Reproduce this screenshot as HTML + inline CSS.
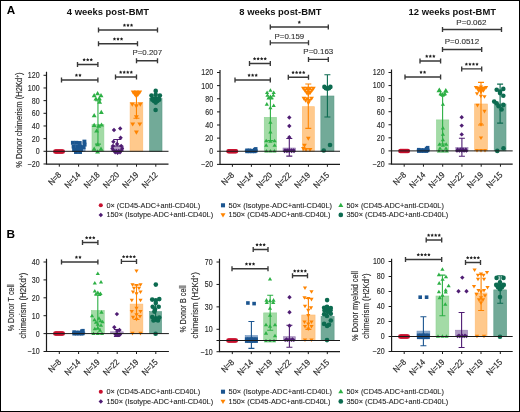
<!DOCTYPE html>
<html><head><meta charset="utf-8"><style>
html,body{margin:0;padding:0;background:#fff;}
body{width:520px;height:412px;overflow:hidden;}
svg{display:block;will-change:transform;}
text{font-family:"Liberation Sans",sans-serif;}
</style></head><body>
<svg width="520" height="412" viewBox="0 0 520 412">
<rect x="0" y="0" width="520" height="412" fill="#fff"/>
<rect x="72.50" y="148.00" width="12.60" height="3.30" fill="#8aa9cc" stroke="#6c93c0" stroke-width="0.6"/>
<rect x="92.00" y="124.50" width="11.90" height="26.80" fill="#a3dba6" stroke="#8fd494" stroke-width="0.6"/>
<rect x="111.10" y="146.00" width="12.40" height="5.30" fill="#b09cc4" stroke="#9a80b5" stroke-width="0.6"/>
<rect x="130.10" y="102.50" width="12.70" height="48.80" fill="#ffc98c" stroke="#ffbb70" stroke-width="0.6"/>
<rect x="149.60" y="98.40" width="12.40" height="52.90" fill="#72aa98" stroke="#5a9a86" stroke-width="0.6"/>
<circle cx="55.30" cy="151.40" r="2.24" fill="#c8102e"/>
<circle cx="56.37" cy="151.40" r="2.24" fill="#c8102e"/>
<circle cx="57.44" cy="151.40" r="2.24" fill="#c8102e"/>
<circle cx="58.51" cy="151.40" r="2.24" fill="#c8102e"/>
<circle cx="59.58" cy="151.40" r="2.24" fill="#c8102e"/>
<circle cx="60.65" cy="151.40" r="2.24" fill="#c8102e"/>
<circle cx="61.72" cy="151.40" r="2.24" fill="#c8102e"/>
<circle cx="62.79" cy="151.40" r="2.24" fill="#c8102e"/>
<rect x="70.94" y="140.84" width="3.92" height="3.92" fill="#1b5590"/>
<rect x="74.34" y="140.84" width="3.92" height="3.92" fill="#1b5590"/>
<rect x="77.74" y="141.04" width="3.92" height="3.92" fill="#1b5590"/>
<rect x="82.44" y="139.64" width="3.92" height="3.92" fill="#1b5590"/>
<rect x="82.64" y="142.64" width="3.92" height="3.92" fill="#1b5590"/>
<rect x="71.64" y="144.64" width="3.92" height="3.92" fill="#1b5590"/>
<rect x="75.14" y="144.64" width="3.92" height="3.92" fill="#1b5590"/>
<rect x="78.64" y="144.64" width="3.92" height="3.92" fill="#1b5590"/>
<rect x="81.64" y="145.24" width="3.92" height="3.92" fill="#1b5590"/>
<rect x="72.24" y="148.04" width="3.92" height="3.92" fill="#1b5590"/>
<rect x="75.64" y="148.04" width="3.92" height="3.92" fill="#1b5590"/>
<rect x="79.04" y="148.04" width="3.92" height="3.92" fill="#1b5590"/>
<rect x="74.04" y="150.04" width="3.92" height="3.92" fill="#1b5590"/>
<rect x="78.04" y="150.04" width="3.92" height="3.92" fill="#1b5590"/>
<path d="M94.20 93.00L96.67 97.21L91.73 97.21Z" fill="#2db045"/>
<path d="M97.60 91.00L100.07 95.21L95.13 95.21Z" fill="#2db045"/>
<path d="M101.00 93.00L103.47 97.21L98.53 97.21Z" fill="#2db045"/>
<path d="M95.90 96.40L98.37 100.61L93.43 100.61Z" fill="#2db045"/>
<path d="M99.30 96.10L101.77 100.31L96.83 100.31Z" fill="#2db045"/>
<path d="M99.60 99.50L102.07 103.71L97.13 103.71Z" fill="#2db045"/>
<path d="M101.30 109.70L103.77 113.91L98.83 113.91Z" fill="#2db045"/>
<path d="M94.20 113.10L96.67 117.31L91.73 117.31Z" fill="#2db045"/>
<path d="M94.20 122.80L96.67 127.01L91.73 127.01Z" fill="#2db045"/>
<path d="M98.80 123.60L101.27 127.81L96.33 127.81Z" fill="#2db045"/>
<path d="M101.50 122.40L103.97 126.61L99.03 126.61Z" fill="#2db045"/>
<path d="M96.60 128.40L99.07 132.61L94.13 132.61Z" fill="#2db045"/>
<path d="M97.60 142.00L100.07 146.21L95.13 146.21Z" fill="#2db045"/>
<path d="M94.20 146.60L96.67 150.81L91.73 150.81Z" fill="#2db045"/>
<path d="M101.00 146.60L103.47 150.81L98.53 150.81Z" fill="#2db045"/>
<path d="M97.60 149.20L100.07 153.41L95.13 153.41Z" fill="#2db045"/>
<path d="M97.95 100.80V144.10M94.95 100.80H100.95M94.95 144.10H100.95" stroke="#2db045" stroke-width="1.1" fill="none"/>
<path d="M114.00 127.80L116.20 130.00L114.00 132.20L111.80 130.00Z" fill="#4f1d73"/>
<path d="M120.20 126.30L122.40 128.50L120.20 130.70L118.00 128.50Z" fill="#4f1d73"/>
<path d="M120.60 135.60L122.80 137.80L120.60 140.00L118.40 137.80Z" fill="#4f1d73"/>
<path d="M113.40 139.50L115.60 141.70L113.40 143.90L111.20 141.70Z" fill="#4f1d73"/>
<path d="M117.10 141.80L119.30 144.00L117.10 146.20L114.90 144.00Z" fill="#4f1d73"/>
<path d="M113.00 143.70L115.20 145.90L113.00 148.10L110.80 145.90Z" fill="#4f1d73"/>
<path d="M121.20 143.70L123.40 145.90L121.20 148.10L119.00 145.90Z" fill="#4f1d73"/>
<path d="M112.30 146.62L114.28 148.60L112.30 150.58L110.32 148.60Z" fill="#4f1d73"/>
<path d="M122.20 146.62L124.18 148.60L122.20 150.58L120.22 148.60Z" fill="#4f1d73"/>
<path d="M113.80 148.62L115.78 150.60L113.80 152.58L111.82 150.60Z" fill="#4f1d73"/>
<path d="M116.30 148.82L118.28 150.80L116.30 152.78L114.32 150.80Z" fill="#4f1d73"/>
<path d="M118.80 148.82L120.78 150.80L118.80 152.78L116.82 150.80Z" fill="#4f1d73"/>
<path d="M121.20 148.62L123.18 150.60L121.20 152.58L119.22 150.60Z" fill="#4f1d73"/>
<path d="M115.20 150.62L117.18 152.60L115.20 154.58L113.22 152.60Z" fill="#4f1d73"/>
<path d="M117.60 151.02L119.58 153.00L117.60 154.98L115.62 153.00Z" fill="#4f1d73"/>
<path d="M120.00 150.62L121.98 152.60L120.00 154.58L118.02 152.60Z" fill="#4f1d73"/>
<path d="M117.30 139.50V146.00M113.30 139.50H121.30M113.30 146.00H121.30" stroke="#4f1d73" stroke-width="1.1" fill="none"/>
<path d="M133.20 94.70L135.67 90.49L130.73 90.49Z" fill="#ff8400"/>
<path d="M136.40 94.70L138.87 90.49L133.93 90.49Z" fill="#ff8400"/>
<path d="M139.70 94.70L142.17 90.49L137.23 90.49Z" fill="#ff8400"/>
<path d="M134.80 96.60L137.27 92.39L132.33 92.39Z" fill="#ff8400"/>
<path d="M138.10 96.60L140.57 92.39L135.63 92.39Z" fill="#ff8400"/>
<path d="M136.40 97.90L138.87 93.69L133.93 93.69Z" fill="#ff8400"/>
<path d="M135.00 95.20L137.47 90.99L132.53 90.99Z" fill="#ff8400"/>
<path d="M138.00 95.20L140.47 90.99L135.53 90.99Z" fill="#ff8400"/>
<path d="M136.40 96.10L138.87 91.89L133.93 91.89Z" fill="#ff8400"/>
<path d="M136.40 98.38L138.38 95.01L134.42 95.01Z" fill="#ff8400"/>
<path d="M136.40 108.40L138.87 104.19L133.93 104.19Z" fill="#ff8400"/>
<path d="M132.30 106.70L134.77 102.49L129.83 102.49Z" fill="#ff8400"/>
<path d="M140.30 106.70L142.77 102.49L137.83 102.49Z" fill="#ff8400"/>
<path d="M136.40 119.40L138.87 115.19L133.93 115.19Z" fill="#ff8400"/>
<path d="M132.70 126.60L135.17 122.39L130.23 122.39Z" fill="#ff8400"/>
<path d="M139.80 126.60L142.27 122.39L137.33 122.39Z" fill="#ff8400"/>
<path d="M136.40 134.80L138.87 130.59L133.93 130.59Z" fill="#ff8400"/>
<path d="M136.45 93.00V118.20M133.45 93.00H139.45M133.45 118.20H139.45" stroke="#ff8400" stroke-width="1.1" fill="none"/>
<circle cx="155.70" cy="90.90" r="2.30" fill="#0c6b50"/>
<circle cx="151.50" cy="95.60" r="2.30" fill="#0c6b50"/>
<circle cx="155.70" cy="94.80" r="2.30" fill="#0c6b50"/>
<circle cx="159.90" cy="95.60" r="2.30" fill="#0c6b50"/>
<circle cx="152.60" cy="98.60" r="2.30" fill="#0c6b50"/>
<circle cx="155.70" cy="98.20" r="2.30" fill="#0c6b50"/>
<circle cx="158.80" cy="98.60" r="2.30" fill="#0c6b50"/>
<circle cx="154.00" cy="101.00" r="2.30" fill="#0c6b50"/>
<circle cx="157.40" cy="101.00" r="2.30" fill="#0c6b50"/>
<circle cx="155.70" cy="102.60" r="2.30" fill="#0c6b50"/>
<circle cx="152.30" cy="99.80" r="2.30" fill="#0c6b50"/>
<circle cx="159.10" cy="99.80" r="2.30" fill="#0c6b50"/>
<circle cx="155.60" cy="110.00" r="2.30" fill="#0c6b50"/>
<path d="M46.5 151.30H168.5" stroke="#1a1a1a" stroke-width="1"/>
<path d="M46.5 71.7V164.2H168.5" stroke="#1a1a1a" stroke-width="1.2" fill="none"/>
<path d="M43.5 75.30H46.5" stroke="#1a1a1a" stroke-width="1"/>
<text x="39.6" y="78.20" font-size="8.2" text-anchor="end" fill="#2b2b2b" font-weight="normal" textLength="11.76" lengthAdjust="spacingAndGlyphs" stroke="#2b2b2b" stroke-width="0.14">120</text>
<path d="M43.5 87.97H46.5" stroke="#1a1a1a" stroke-width="1"/>
<text x="39.6" y="90.87" font-size="8.2" text-anchor="end" fill="#2b2b2b" font-weight="normal" textLength="11.76" lengthAdjust="spacingAndGlyphs" stroke="#2b2b2b" stroke-width="0.14">100</text>
<path d="M43.5 100.63H46.5" stroke="#1a1a1a" stroke-width="1"/>
<text x="39.6" y="103.53" font-size="8.2" text-anchor="end" fill="#2b2b2b" font-weight="normal" textLength="7.84" lengthAdjust="spacingAndGlyphs" stroke="#2b2b2b" stroke-width="0.14">80</text>
<path d="M43.5 113.30H46.5" stroke="#1a1a1a" stroke-width="1"/>
<text x="39.6" y="116.20" font-size="8.2" text-anchor="end" fill="#2b2b2b" font-weight="normal" textLength="7.84" lengthAdjust="spacingAndGlyphs" stroke="#2b2b2b" stroke-width="0.14">60</text>
<path d="M43.5 125.97H46.5" stroke="#1a1a1a" stroke-width="1"/>
<text x="39.6" y="128.87" font-size="8.2" text-anchor="end" fill="#2b2b2b" font-weight="normal" textLength="7.84" lengthAdjust="spacingAndGlyphs" stroke="#2b2b2b" stroke-width="0.14">40</text>
<path d="M43.5 138.63H46.5" stroke="#1a1a1a" stroke-width="1"/>
<text x="39.6" y="141.53" font-size="8.2" text-anchor="end" fill="#2b2b2b" font-weight="normal" textLength="7.84" lengthAdjust="spacingAndGlyphs" stroke="#2b2b2b" stroke-width="0.14">20</text>
<path d="M43.5 151.30H46.5" stroke="#1a1a1a" stroke-width="1"/>
<text x="39.6" y="154.20" font-size="8.2" text-anchor="end" fill="#2b2b2b" font-weight="normal" textLength="3.92" lengthAdjust="spacingAndGlyphs" stroke="#2b2b2b" stroke-width="0.14">0</text>
<path d="M43.5 163.97H46.5" stroke="#1a1a1a" stroke-width="1"/>
<text x="39.6" y="166.87" font-size="8.2" text-anchor="end" fill="#2b2b2b" font-weight="normal" textLength="11.96" lengthAdjust="spacingAndGlyphs" stroke="#2b2b2b" stroke-width="0.14">−20</text>
<path d="M59.30 164.2V166.7" stroke="#1a1a1a" stroke-width="1"/>
<path d="M78.60 164.2V166.7" stroke="#1a1a1a" stroke-width="1"/>
<path d="M97.90 164.2V166.7" stroke="#1a1a1a" stroke-width="1"/>
<path d="M117.20 164.2V166.7" stroke="#1a1a1a" stroke-width="1"/>
<path d="M136.50 164.2V166.7" stroke="#1a1a1a" stroke-width="1"/>
<path d="M155.80 164.2V166.7" stroke="#1a1a1a" stroke-width="1"/>
<text transform="translate(61.80 175.50) rotate(-45)" font-size="8.6" text-anchor="end" fill="#2b2b2b" stroke="#2b2b2b" stroke-width="0.18" textLength="14.35" lengthAdjust="spacingAndGlyphs">N=8</text>
<text transform="translate(81.10 175.50) rotate(-45)" font-size="8.6" text-anchor="end" fill="#2b2b2b" stroke="#2b2b2b" stroke-width="0.18" textLength="18.64" lengthAdjust="spacingAndGlyphs">N=14</text>
<text transform="translate(100.40 175.50) rotate(-45)" font-size="8.6" text-anchor="end" fill="#2b2b2b" stroke="#2b2b2b" stroke-width="0.18" textLength="18.64" lengthAdjust="spacingAndGlyphs">N=18</text>
<text transform="translate(119.70 175.50) rotate(-45)" font-size="8.6" text-anchor="end" fill="#2b2b2b" stroke="#2b2b2b" stroke-width="0.18" textLength="18.64" lengthAdjust="spacingAndGlyphs">N=20</text>
<text transform="translate(139.00 175.50) rotate(-45)" font-size="8.6" text-anchor="end" fill="#2b2b2b" stroke="#2b2b2b" stroke-width="0.18" textLength="18.64" lengthAdjust="spacingAndGlyphs">N=19</text>
<text transform="translate(158.30 175.50) rotate(-45)" font-size="8.6" text-anchor="end" fill="#2b2b2b" stroke="#2b2b2b" stroke-width="0.18" textLength="18.64" lengthAdjust="spacingAndGlyphs">N=12</text>
<path d="M61.5 80H97.9M61.5 77.5V82.5M97.9 77.5V82.5" stroke="#383838" stroke-width="1.35" fill="none"/>
<polygon points="76.42,73.55 76.98,74.53 78.09,74.76 77.33,75.59 77.45,76.72 76.42,76.25 75.40,76.72 75.52,75.59 74.76,74.76 75.87,74.53" fill="#222"/>
<polygon points="79.98,73.55 80.53,74.53 81.64,74.76 80.88,75.59 81.00,76.72 79.98,76.25 78.95,76.72 79.07,75.59 78.31,74.76 79.42,74.53" fill="#222"/>
<path d="M77.5 64.5H97.9M77.5 62.0V67.0M97.9 62.0V67.0" stroke="#383838" stroke-width="1.35" fill="none"/>
<polygon points="84.15,58.05 84.71,59.03 85.81,59.26 85.05,60.09 85.18,61.22 84.15,60.75 83.12,61.22 83.25,60.09 82.49,59.26 83.59,59.03" fill="#222"/>
<polygon points="87.70,58.05 88.26,59.03 89.36,59.26 88.60,60.09 88.73,61.22 87.70,60.75 86.67,61.22 86.80,60.09 86.04,59.26 87.14,59.03" fill="#222"/>
<polygon points="91.25,58.05 91.81,59.03 92.91,59.26 92.15,60.09 92.28,61.22 91.25,60.75 90.22,61.22 90.35,60.09 89.59,59.26 90.69,59.03" fill="#222"/>
<path d="M98.5 30H157.5M98.5 27.5V32.5M157.5 27.5V32.5" stroke="#383838" stroke-width="1.35" fill="none"/>
<polygon points="124.45,23.55 125.01,24.53 126.11,24.76 125.35,25.59 125.48,26.72 124.45,26.25 123.42,26.72 123.55,25.59 122.79,24.76 123.89,24.53" fill="#222"/>
<polygon points="128.00,23.55 128.56,24.53 129.66,24.76 128.90,25.59 129.03,26.72 128.00,26.25 126.97,26.72 127.10,25.59 126.34,24.76 127.44,24.53" fill="#222"/>
<polygon points="131.55,23.55 132.11,24.53 133.21,24.76 132.45,25.59 132.58,26.72 131.55,26.25 130.52,26.72 130.65,25.59 129.89,24.76 130.99,24.53" fill="#222"/>
<path d="M98.5 43.7H137.5M98.5 41.2V46.2M137.5 41.2V46.2" stroke="#383838" stroke-width="1.35" fill="none"/>
<polygon points="114.45,37.25 115.01,38.23 116.11,38.46 115.35,39.29 115.48,40.42 114.45,39.95 113.42,40.42 113.55,39.29 112.79,38.46 113.89,38.23" fill="#222"/>
<polygon points="118.00,37.25 118.56,38.23 119.66,38.46 118.90,39.29 119.03,40.42 118.00,39.95 116.97,40.42 117.10,39.29 116.34,38.46 117.44,38.23" fill="#222"/>
<polygon points="121.55,37.25 122.11,38.23 123.21,38.46 122.45,39.29 122.58,40.42 121.55,39.95 120.52,40.42 120.65,39.29 119.89,38.46 120.99,38.23" fill="#222"/>
<path d="M136.5 60.7H157.5M136.5 58.2V63.2M157.5 58.2V63.2" stroke="#383838" stroke-width="1.35" fill="none"/>
<text x="132.50" y="54.6" font-size="7.6" text-anchor="start" fill="#333" font-weight="normal" textLength="29.60" lengthAdjust="spacingAndGlyphs" stroke="#333" stroke-width="0.12">P=0.207</text>
<path d="M115.5 77H136.5M115.5 74.5V79.5M136.5 74.5V79.5" stroke="#383838" stroke-width="1.35" fill="none"/>
<polygon points="120.67,70.55 121.23,71.53 122.34,71.76 121.58,72.59 121.70,73.72 120.67,73.25 119.65,73.72 119.77,72.59 119.01,71.76 120.12,71.53" fill="#222"/>
<polygon points="124.22,70.55 124.78,71.53 125.89,71.76 125.13,72.59 125.25,73.72 124.22,73.25 123.20,73.72 123.32,72.59 122.56,71.76 123.67,71.53" fill="#222"/>
<polygon points="127.78,70.55 128.33,71.53 129.44,71.76 128.68,72.59 128.80,73.72 127.78,73.25 126.75,73.72 126.87,72.59 126.11,71.76 127.22,71.53" fill="#222"/>
<polygon points="131.32,70.55 131.88,71.53 132.99,71.76 132.23,72.59 132.35,73.72 131.32,73.25 130.30,73.72 130.42,72.59 129.66,71.76 130.77,71.53" fill="#222"/>
<rect x="245.00" y="150.00" width="12.60" height="1.25" fill="#8aa9cc" stroke="#6c93c0" stroke-width="0.6"/>
<rect x="264.25" y="117.30" width="12.30" height="33.95" fill="#a3dba6" stroke="#8fd494" stroke-width="0.6"/>
<rect x="283.00" y="148.00" width="12.60" height="3.25" fill="#b09cc4" stroke="#9a80b5" stroke-width="0.6"/>
<rect x="302.30" y="106.70" width="12.00" height="44.55" fill="#ffc98c" stroke="#ffbb70" stroke-width="0.6"/>
<rect x="320.85" y="96.00" width="13.10" height="55.25" fill="#72aa98" stroke="#5a9a86" stroke-width="0.6"/>
<circle cx="228.50" cy="151.20" r="2.24" fill="#c8102e"/>
<circle cx="229.57" cy="151.20" r="2.24" fill="#c8102e"/>
<circle cx="230.64" cy="151.20" r="2.24" fill="#c8102e"/>
<circle cx="231.71" cy="151.20" r="2.24" fill="#c8102e"/>
<circle cx="232.78" cy="151.20" r="2.24" fill="#c8102e"/>
<circle cx="233.85" cy="151.20" r="2.24" fill="#c8102e"/>
<circle cx="234.92" cy="151.20" r="2.24" fill="#c8102e"/>
<circle cx="235.99" cy="151.20" r="2.24" fill="#c8102e"/>
<rect x="245.20" y="148.50" width="3.40" height="3.40" fill="#1b5590"/>
<rect x="247.80" y="148.50" width="3.40" height="3.40" fill="#1b5590"/>
<rect x="250.40" y="148.80" width="3.40" height="3.40" fill="#1b5590"/>
<rect x="253.00" y="147.80" width="3.40" height="3.40" fill="#1b5590"/>
<rect x="254.10" y="147.10" width="3.40" height="3.40" fill="#1b5590"/>
<rect x="245.20" y="149.80" width="3.40" height="3.40" fill="#1b5590"/>
<rect x="247.80" y="149.80" width="3.40" height="3.40" fill="#1b5590"/>
<rect x="250.40" y="149.80" width="3.40" height="3.40" fill="#1b5590"/>
<rect x="253.00" y="149.80" width="3.40" height="3.40" fill="#1b5590"/>
<rect x="254.10" y="149.30" width="3.40" height="3.40" fill="#1b5590"/>
<path d="M267.10 90.39L269.20 93.97L265.00 93.97Z" fill="#2db045"/>
<path d="M270.40 88.19L272.50 91.77L268.30 91.77Z" fill="#2db045"/>
<path d="M273.70 90.39L275.80 93.97L271.60 93.97Z" fill="#2db045"/>
<path d="M267.50 93.29L269.60 96.87L265.40 96.87Z" fill="#2db045"/>
<path d="M273.30 93.29L275.40 96.87L271.20 96.87Z" fill="#2db045"/>
<path d="M270.40 94.39L272.50 97.97L268.30 97.97Z" fill="#2db045"/>
<path d="M268.50 95.89L270.60 99.47L266.40 99.47Z" fill="#2db045"/>
<path d="M271.50 95.89L273.60 99.47L269.40 99.47Z" fill="#2db045"/>
<path d="M266.80 102.09L268.90 105.67L264.70 105.67Z" fill="#2db045"/>
<path d="M273.70 103.39L275.80 106.97L271.60 106.97Z" fill="#2db045"/>
<path d="M270.40 105.69L272.50 109.27L268.30 109.27Z" fill="#2db045"/>
<path d="M270.40 120.19L272.50 123.77L268.30 123.77Z" fill="#2db045"/>
<path d="M270.40 129.89L272.50 133.47L268.30 133.47Z" fill="#2db045"/>
<path d="M266.20 138.79L268.30 142.37L264.10 142.37Z" fill="#2db045"/>
<path d="M270.40 139.19L272.50 142.77L268.30 142.77Z" fill="#2db045"/>
<path d="M274.60 138.79L276.70 142.37L272.50 142.37Z" fill="#2db045"/>
<path d="M266.20 143.19L268.30 146.77L264.10 146.77Z" fill="#2db045"/>
<path d="M274.60 143.19L276.70 146.77L272.50 146.77Z" fill="#2db045"/>
<path d="M266.40 148.99L268.50 152.57L264.30 152.57Z" fill="#2db045"/>
<path d="M270.40 148.99L272.50 152.57L268.30 152.57Z" fill="#2db045"/>
<path d="M274.40 148.99L276.50 152.57L272.30 152.57Z" fill="#2db045"/>
<path d="M270.40 98.40V140.60M267.40 98.40H273.40M267.40 140.60H273.40" stroke="#2db045" stroke-width="1.1" fill="none"/>
<path d="M289.30 115.30L291.50 117.50L289.30 119.70L287.10 117.50Z" fill="#4f1d73"/>
<path d="M289.30 123.80L291.50 126.00L289.30 128.20L287.10 126.00Z" fill="#4f1d73"/>
<path d="M289.30 135.10L291.50 137.30L289.30 139.50L287.10 137.30Z" fill="#4f1d73"/>
<path d="M285.00 148.14L286.76 149.90L285.00 151.66L283.24 149.90Z" fill="#4f1d73"/>
<path d="M287.15 148.14L288.91 149.90L287.15 151.66L285.39 149.90Z" fill="#4f1d73"/>
<path d="M289.30 148.14L291.06 149.90L289.30 151.66L287.54 149.90Z" fill="#4f1d73"/>
<path d="M291.45 148.14L293.21 149.90L291.45 151.66L289.69 149.90Z" fill="#4f1d73"/>
<path d="M293.60 148.14L295.36 149.90L293.60 151.66L291.84 149.90Z" fill="#4f1d73"/>
<path d="M284.60 149.43L286.47 151.30L284.60 153.17L282.73 151.30Z" fill="#4f1d73"/>
<path d="M286.95 149.43L288.82 151.30L286.95 153.17L285.08 151.30Z" fill="#4f1d73"/>
<path d="M289.30 149.43L291.17 151.30L289.30 153.17L287.43 151.30Z" fill="#4f1d73"/>
<path d="M291.65 149.43L293.52 151.30L291.65 153.17L289.78 151.30Z" fill="#4f1d73"/>
<path d="M294.00 149.43L295.87 151.30L294.00 153.17L292.13 151.30Z" fill="#4f1d73"/>
<path d="M289.30 138.50V156.10M286.30 138.50H292.30M286.30 156.10H292.30" stroke="#4f1d73" stroke-width="1.1" fill="none"/>
<path d="M303.40 90.87L305.75 86.87L301.05 86.87Z" fill="#ff8400"/>
<path d="M306.80 90.87L309.15 86.87L304.45 86.87Z" fill="#ff8400"/>
<path d="M310.00 90.87L312.35 86.87L307.65 86.87Z" fill="#ff8400"/>
<path d="M313.40 90.87L315.75 86.87L311.05 86.87Z" fill="#ff8400"/>
<path d="M305.00 92.77L307.35 88.77L302.65 88.77Z" fill="#ff8400"/>
<path d="M308.40 92.77L310.75 88.77L306.05 88.77Z" fill="#ff8400"/>
<path d="M311.80 92.77L314.15 88.77L309.45 88.77Z" fill="#ff8400"/>
<path d="M306.60 95.07L308.95 91.07L304.25 91.07Z" fill="#ff8400"/>
<path d="M310.20 95.07L312.55 91.07L307.85 91.07Z" fill="#ff8400"/>
<path d="M308.40 96.47L310.75 92.47L306.05 92.47Z" fill="#ff8400"/>
<path d="M303.90 100.67L306.25 96.67L301.55 96.67Z" fill="#ff8400"/>
<path d="M307.30 101.17L309.65 97.17L304.95 97.17Z" fill="#ff8400"/>
<path d="M311.60 100.67L313.95 96.67L309.25 96.67Z" fill="#ff8400"/>
<path d="M305.60 102.77L307.95 98.77L303.25 98.77Z" fill="#ff8400"/>
<path d="M309.50 102.77L311.85 98.77L307.15 98.77Z" fill="#ff8400"/>
<path d="M308.40 105.27L310.75 101.27L306.05 101.27Z" fill="#ff8400"/>
<path d="M308.30 140.67L310.65 136.67L305.95 136.67Z" fill="#ff8400"/>
<path d="M304.50 147.87L306.85 143.87L302.15 143.87Z" fill="#ff8400"/>
<path d="M306.00 152.07L308.35 148.07L303.65 148.07Z" fill="#ff8400"/>
<path d="M310.00 152.07L312.35 148.07L307.65 148.07Z" fill="#ff8400"/>
<path d="M303.40 151.07L305.75 147.07L301.05 147.07Z" fill="#ff8400"/>
<path d="M308.30 84.00V128.40M305.30 84.00H311.30M305.30 128.40H311.30" stroke="#ff8400" stroke-width="1.1" fill="none"/>
<circle cx="324.40" cy="86.90" r="2.30" fill="#0c6b50"/>
<circle cx="330.40" cy="86.90" r="2.30" fill="#0c6b50"/>
<circle cx="327.40" cy="88.60" r="2.30" fill="#0c6b50"/>
<circle cx="325.80" cy="88.20" r="2.30" fill="#0c6b50"/>
<circle cx="329.00" cy="88.20" r="2.30" fill="#0c6b50"/>
<circle cx="323.75" cy="150.50" r="2.30" fill="#0c6b50"/>
<circle cx="330.00" cy="145.00" r="2.30" fill="#0c6b50"/>
<path d="M327.40 74.70V117.00M324.40 74.70H330.40M324.40 117.00H330.40" stroke="#0c6b50" stroke-width="1.1" fill="none"/>
<path d="M220 151.25H340" stroke="#1a1a1a" stroke-width="1"/>
<path d="M220 70V164.3H340" stroke="#1a1a1a" stroke-width="1.2" fill="none"/>
<path d="M217 72.50H220" stroke="#1a1a1a" stroke-width="1"/>
<text x="213.1" y="75.40" font-size="8.2" text-anchor="end" fill="#2b2b2b" font-weight="normal" textLength="11.76" lengthAdjust="spacingAndGlyphs" stroke="#2b2b2b" stroke-width="0.14">120</text>
<path d="M217 85.62H220" stroke="#1a1a1a" stroke-width="1"/>
<text x="213.1" y="88.53" font-size="8.2" text-anchor="end" fill="#2b2b2b" font-weight="normal" textLength="11.76" lengthAdjust="spacingAndGlyphs" stroke="#2b2b2b" stroke-width="0.14">100</text>
<path d="M217 98.75H220" stroke="#1a1a1a" stroke-width="1"/>
<text x="213.1" y="101.65" font-size="8.2" text-anchor="end" fill="#2b2b2b" font-weight="normal" textLength="7.84" lengthAdjust="spacingAndGlyphs" stroke="#2b2b2b" stroke-width="0.14">80</text>
<path d="M217 111.88H220" stroke="#1a1a1a" stroke-width="1"/>
<text x="213.1" y="114.78" font-size="8.2" text-anchor="end" fill="#2b2b2b" font-weight="normal" textLength="7.84" lengthAdjust="spacingAndGlyphs" stroke="#2b2b2b" stroke-width="0.14">60</text>
<path d="M217 125.00H220" stroke="#1a1a1a" stroke-width="1"/>
<text x="213.1" y="127.90" font-size="8.2" text-anchor="end" fill="#2b2b2b" font-weight="normal" textLength="7.84" lengthAdjust="spacingAndGlyphs" stroke="#2b2b2b" stroke-width="0.14">40</text>
<path d="M217 138.12H220" stroke="#1a1a1a" stroke-width="1"/>
<text x="213.1" y="141.03" font-size="8.2" text-anchor="end" fill="#2b2b2b" font-weight="normal" textLength="7.84" lengthAdjust="spacingAndGlyphs" stroke="#2b2b2b" stroke-width="0.14">20</text>
<path d="M217 151.25H220" stroke="#1a1a1a" stroke-width="1"/>
<text x="213.1" y="154.15" font-size="8.2" text-anchor="end" fill="#2b2b2b" font-weight="normal" textLength="3.92" lengthAdjust="spacingAndGlyphs" stroke="#2b2b2b" stroke-width="0.14">0</text>
<path d="M217 164.38H220" stroke="#1a1a1a" stroke-width="1"/>
<text x="213.1" y="167.28" font-size="8.2" text-anchor="end" fill="#2b2b2b" font-weight="normal" textLength="11.96" lengthAdjust="spacingAndGlyphs" stroke="#2b2b2b" stroke-width="0.14">−20</text>
<path d="M232.40 164.3V166.8" stroke="#1a1a1a" stroke-width="1"/>
<path d="M251.40 164.3V166.8" stroke="#1a1a1a" stroke-width="1"/>
<path d="M270.40 164.3V166.8" stroke="#1a1a1a" stroke-width="1"/>
<path d="M289.40 164.3V166.8" stroke="#1a1a1a" stroke-width="1"/>
<path d="M308.40 164.3V166.8" stroke="#1a1a1a" stroke-width="1"/>
<path d="M327.40 164.3V166.8" stroke="#1a1a1a" stroke-width="1"/>
<text transform="translate(234.90 175.60) rotate(-45)" font-size="8.6" text-anchor="end" fill="#2b2b2b" stroke="#2b2b2b" stroke-width="0.18" textLength="14.35" lengthAdjust="spacingAndGlyphs">N=8</text>
<text transform="translate(253.90 175.60) rotate(-45)" font-size="8.6" text-anchor="end" fill="#2b2b2b" stroke="#2b2b2b" stroke-width="0.18" textLength="18.64" lengthAdjust="spacingAndGlyphs">N=14</text>
<text transform="translate(272.90 175.60) rotate(-45)" font-size="8.6" text-anchor="end" fill="#2b2b2b" stroke="#2b2b2b" stroke-width="0.18" textLength="18.64" lengthAdjust="spacingAndGlyphs">N=20</text>
<text transform="translate(291.90 175.60) rotate(-45)" font-size="8.6" text-anchor="end" fill="#2b2b2b" stroke="#2b2b2b" stroke-width="0.18" textLength="18.64" lengthAdjust="spacingAndGlyphs">N=22</text>
<text transform="translate(310.90 175.60) rotate(-45)" font-size="8.6" text-anchor="end" fill="#2b2b2b" stroke="#2b2b2b" stroke-width="0.18" textLength="18.64" lengthAdjust="spacingAndGlyphs">N=19</text>
<text transform="translate(329.90 175.60) rotate(-45)" font-size="8.6" text-anchor="end" fill="#2b2b2b" stroke="#2b2b2b" stroke-width="0.18" textLength="18.64" lengthAdjust="spacingAndGlyphs">N=15</text>
<path d="M235 80H270.3M235 77.5V82.5M270.3 77.5V82.5" stroke="#383838" stroke-width="1.35" fill="none"/>
<polygon points="249.10,73.55 249.66,74.53 250.76,74.76 250.00,75.59 250.13,76.72 249.10,76.25 248.07,76.72 248.20,75.59 247.44,74.76 248.54,74.53" fill="#222"/>
<polygon points="252.65,73.55 253.21,74.53 254.31,74.76 253.55,75.59 253.68,76.72 252.65,76.25 251.62,76.72 251.75,75.59 250.99,74.76 252.09,74.53" fill="#222"/>
<polygon points="256.20,73.55 256.76,74.53 257.86,74.76 257.10,75.59 257.23,76.72 256.20,76.25 255.17,76.72 255.30,75.59 254.54,74.76 255.64,74.53" fill="#222"/>
<path d="M249.5 63.5H270.3M249.5 61.0V66.0M270.3 61.0V66.0" stroke="#383838" stroke-width="1.35" fill="none"/>
<polygon points="254.57,57.05 255.13,58.03 256.24,58.26 255.48,59.09 255.60,60.22 254.57,59.75 253.55,60.22 253.67,59.09 252.91,58.26 254.02,58.03" fill="#222"/>
<polygon points="258.12,57.05 258.68,58.03 259.79,58.26 259.03,59.09 259.15,60.22 258.12,59.75 257.10,60.22 257.22,59.09 256.46,58.26 257.57,58.03" fill="#222"/>
<polygon points="261.67,57.05 262.23,58.03 263.34,58.26 262.58,59.09 262.70,60.22 261.67,59.75 260.65,60.22 260.77,59.09 260.01,58.26 261.12,58.03" fill="#222"/>
<polygon points="265.22,57.05 265.78,58.03 266.89,58.26 266.13,59.09 266.25,60.22 265.22,59.75 264.20,60.22 264.32,59.09 263.56,58.26 264.67,58.03" fill="#222"/>
<path d="M270.3 27H328.3M270.3 24.5V29.5M328.3 24.5V29.5" stroke="#383838" stroke-width="1.35" fill="none"/>
<polygon points="299.30,20.55 299.86,21.53 300.96,21.76 300.20,22.59 300.33,23.72 299.30,23.25 298.27,23.72 298.40,22.59 297.64,21.76 298.74,21.53" fill="#222"/>
<path d="M270.3 42.8H308.5M270.3 40.3V45.3M308.5 40.3V45.3" stroke="#383838" stroke-width="1.35" fill="none"/>
<text x="274.50" y="39.4" font-size="7.6" text-anchor="start" fill="#333" font-weight="normal" textLength="29.70" lengthAdjust="spacingAndGlyphs" stroke="#333" stroke-width="0.12">P=0.159</text>
<path d="M308.5 59.4H328.3M308.5 56.9V61.9M328.3 56.9V61.9" stroke="#383838" stroke-width="1.35" fill="none"/>
<text x="303.30" y="53.6" font-size="7.6" text-anchor="start" fill="#333" font-weight="normal" textLength="30.00" lengthAdjust="spacingAndGlyphs" stroke="#333" stroke-width="0.12">P=0.163</text>
<path d="M288.3 77.2H308.5M288.3 74.7V79.7M308.5 74.7V79.7" stroke="#383838" stroke-width="1.35" fill="none"/>
<polygon points="293.07,70.75 293.63,71.73 294.74,71.96 293.98,72.79 294.10,73.92 293.07,73.45 292.05,73.92 292.17,72.79 291.41,71.96 292.52,71.73" fill="#222"/>
<polygon points="296.62,70.75 297.18,71.73 298.29,71.96 297.53,72.79 297.65,73.92 296.62,73.45 295.60,73.92 295.72,72.79 294.96,71.96 296.07,71.73" fill="#222"/>
<polygon points="300.17,70.75 300.73,71.73 301.84,71.96 301.08,72.79 301.20,73.92 300.17,73.45 299.15,73.92 299.27,72.79 298.51,71.96 299.62,71.73" fill="#222"/>
<polygon points="303.72,70.75 304.28,71.73 305.39,71.96 304.63,72.79 304.75,73.92 303.72,73.45 302.70,73.92 302.82,72.79 302.06,71.96 303.17,71.73" fill="#222"/>
<rect x="417.00" y="149.00" width="12.60" height="1.90" fill="#8aa9cc" stroke="#6c93c0" stroke-width="0.6"/>
<rect x="436.45" y="119.90" width="12.30" height="31.00" fill="#a3dba6" stroke="#8fd494" stroke-width="0.6"/>
<rect x="455.80" y="147.50" width="12.20" height="3.40" fill="#b09cc4" stroke="#9a80b5" stroke-width="0.6"/>
<rect x="474.60" y="104.00" width="12.80" height="46.90" fill="#ffc98c" stroke="#ffbb70" stroke-width="0.6"/>
<rect x="494.20" y="104.00" width="11.80" height="46.90" fill="#72aa98" stroke="#5a9a86" stroke-width="0.6"/>
<circle cx="400.40" cy="150.90" r="2.24" fill="#c8102e"/>
<circle cx="401.47" cy="150.90" r="2.24" fill="#c8102e"/>
<circle cx="402.54" cy="150.90" r="2.24" fill="#c8102e"/>
<circle cx="403.61" cy="150.90" r="2.24" fill="#c8102e"/>
<circle cx="404.68" cy="150.90" r="2.24" fill="#c8102e"/>
<circle cx="405.75" cy="150.90" r="2.24" fill="#c8102e"/>
<circle cx="406.82" cy="150.90" r="2.24" fill="#c8102e"/>
<circle cx="407.89" cy="150.90" r="2.24" fill="#c8102e"/>
<rect x="417.00" y="147.90" width="3.40" height="3.40" fill="#1b5590"/>
<rect x="419.60" y="148.20" width="3.40" height="3.40" fill="#1b5590"/>
<rect x="422.20" y="148.20" width="3.40" height="3.40" fill="#1b5590"/>
<rect x="424.80" y="146.70" width="3.40" height="3.40" fill="#1b5590"/>
<rect x="426.00" y="145.90" width="3.40" height="3.40" fill="#1b5590"/>
<rect x="417.00" y="149.50" width="3.40" height="3.40" fill="#1b5590"/>
<rect x="419.60" y="149.50" width="3.40" height="3.40" fill="#1b5590"/>
<rect x="422.20" y="149.50" width="3.40" height="3.40" fill="#1b5590"/>
<rect x="424.80" y="149.50" width="3.40" height="3.40" fill="#1b5590"/>
<rect x="426.00" y="148.80" width="3.40" height="3.40" fill="#1b5590"/>
<path d="M439.30 87.41L442.14 92.25L436.46 92.25Z" fill="#2db045"/>
<path d="M445.80 87.91L448.64 92.75L442.96 92.75Z" fill="#2db045"/>
<path d="M440.60 91.59L442.70 95.17L438.50 95.17Z" fill="#2db045"/>
<path d="M442.70 91.99L444.80 95.57L440.60 95.57Z" fill="#2db045"/>
<path d="M444.90 91.59L447.00 95.17L442.80 95.17Z" fill="#2db045"/>
<path d="M442.70 93.09L444.80 96.67L440.60 96.67Z" fill="#2db045"/>
<path d="M442.90 102.29L445.00 105.87L440.80 105.87Z" fill="#2db045"/>
<path d="M442.90 125.89L445.00 129.47L440.80 129.47Z" fill="#2db045"/>
<path d="M442.90 132.29L445.00 135.87L440.80 135.87Z" fill="#2db045"/>
<path d="M442.90 137.69L445.00 141.27L440.80 141.27Z" fill="#2db045"/>
<path d="M439.50 142.29L441.60 145.87L437.40 145.87Z" fill="#2db045"/>
<path d="M446.20 142.29L448.30 145.87L444.10 145.87Z" fill="#2db045"/>
<path d="M442.90 143.19L445.00 146.77L440.80 146.77Z" fill="#2db045"/>
<path d="M440.00 146.19L442.10 149.77L437.90 149.77Z" fill="#2db045"/>
<path d="M446.00 146.19L448.10 149.77L443.90 149.77Z" fill="#2db045"/>
<path d="M442.90 148.99L445.00 152.57L440.80 152.57Z" fill="#2db045"/>
<path d="M439.00 148.99L441.10 152.57L436.90 152.57Z" fill="#2db045"/>
<path d="M446.80 148.99L448.90 152.57L444.70 152.57Z" fill="#2db045"/>
<path d="M442.60 95.50V144.00M439.60 95.50H445.60M439.60 144.00H445.60" stroke="#2db045" stroke-width="1.1" fill="none"/>
<path d="M461.70 115.10L463.90 117.30L461.70 119.50L459.50 117.30Z" fill="#4f1d73"/>
<path d="M461.70 123.40L463.90 125.60L461.70 127.80L459.50 125.60Z" fill="#4f1d73"/>
<path d="M461.70 132.20L463.90 134.40L461.70 136.60L459.50 134.40Z" fill="#4f1d73"/>
<path d="M457.60 147.54L459.36 149.30L457.60 151.06L455.84 149.30Z" fill="#4f1d73"/>
<path d="M460.33 147.54L462.09 149.30L460.33 151.06L458.57 149.30Z" fill="#4f1d73"/>
<path d="M463.07 147.54L464.83 149.30L463.07 151.06L461.31 149.30Z" fill="#4f1d73"/>
<path d="M465.80 147.54L467.56 149.30L465.80 151.06L464.04 149.30Z" fill="#4f1d73"/>
<path d="M457.00 149.03L458.87 150.90L457.00 152.77L455.13 150.90Z" fill="#4f1d73"/>
<path d="M459.35 149.03L461.22 150.90L459.35 152.77L457.48 150.90Z" fill="#4f1d73"/>
<path d="M461.70 149.03L463.57 150.90L461.70 152.77L459.83 150.90Z" fill="#4f1d73"/>
<path d="M464.05 149.03L465.92 150.90L464.05 152.77L462.18 150.90Z" fill="#4f1d73"/>
<path d="M466.40 149.03L468.27 150.90L466.40 152.77L464.53 150.90Z" fill="#4f1d73"/>
<path d="M461.90 138.30V156.20M458.90 138.30H464.90M458.90 156.20H464.90" stroke="#4f1d73" stroke-width="1.1" fill="none"/>
<path d="M475.90 89.61L478.00 86.03L473.80 86.03Z" fill="#ff8400"/>
<path d="M478.60 90.21L480.70 86.63L476.50 86.63Z" fill="#ff8400"/>
<path d="M481.00 89.01L483.10 85.43L478.90 85.43Z" fill="#ff8400"/>
<path d="M483.40 90.21L485.50 86.63L481.30 86.63Z" fill="#ff8400"/>
<path d="M486.10 89.61L488.20 86.03L484.00 86.03Z" fill="#ff8400"/>
<path d="M478.60 92.81L480.70 89.23L476.50 89.23Z" fill="#ff8400"/>
<path d="M483.40 92.81L485.50 89.23L481.30 89.23Z" fill="#ff8400"/>
<path d="M481.00 94.41L483.10 90.83L478.90 90.83Z" fill="#ff8400"/>
<path d="M479.80 91.01L481.90 87.43L477.70 87.43Z" fill="#ff8400"/>
<path d="M482.20 91.01L484.30 87.43L480.10 87.43Z" fill="#ff8400"/>
<path d="M481.00 92.51L483.10 88.93L478.90 88.93Z" fill="#ff8400"/>
<path d="M477.30 90.41L479.40 86.83L475.20 86.83Z" fill="#ff8400"/>
<path d="M484.70 90.41L486.80 86.83L482.60 86.83Z" fill="#ff8400"/>
<path d="M477.00 95.81L479.10 92.23L474.90 92.23Z" fill="#ff8400"/>
<path d="M480.90 98.21L483.00 94.63L478.80 94.63Z" fill="#ff8400"/>
<path d="M484.50 98.81L486.60 95.23L482.40 95.23Z" fill="#ff8400"/>
<path d="M477.50 107.41L479.60 103.83L475.40 103.83Z" fill="#ff8400"/>
<path d="M484.50 113.41L486.60 109.83L482.40 109.83Z" fill="#ff8400"/>
<path d="M481.00 126.81L483.10 123.23L478.90 123.23Z" fill="#ff8400"/>
<path d="M481.00 140.11L483.10 136.53L478.90 136.53Z" fill="#ff8400"/>
<path d="M477.00 152.51L479.10 148.93L474.90 148.93Z" fill="#ff8400"/>
<path d="M481.00 152.51L483.10 148.93L478.90 148.93Z" fill="#ff8400"/>
<path d="M485.00 152.51L487.10 148.93L482.90 148.93Z" fill="#ff8400"/>
<path d="M481.00 82.40V125.00M478.00 82.40H484.00M478.00 125.00H484.00" stroke="#ff8400" stroke-width="1.1" fill="none"/>
<circle cx="496.70" cy="89.80" r="2.30" fill="#0c6b50"/>
<circle cx="503.30" cy="88.90" r="2.30" fill="#0c6b50"/>
<circle cx="500.00" cy="91.50" r="2.30" fill="#0c6b50"/>
<circle cx="500.00" cy="93.10" r="2.30" fill="#0c6b50"/>
<circle cx="503.30" cy="95.80" r="2.30" fill="#0c6b50"/>
<circle cx="494.20" cy="101.60" r="2.30" fill="#0c6b50"/>
<circle cx="496.70" cy="103.40" r="2.30" fill="#0c6b50"/>
<circle cx="498.60" cy="106.20" r="2.30" fill="#0c6b50"/>
<circle cx="503.30" cy="104.90" r="2.30" fill="#0c6b50"/>
<circle cx="501.60" cy="109.40" r="2.30" fill="#0c6b50"/>
<circle cx="497.30" cy="150.90" r="2.30" fill="#0c6b50"/>
<circle cx="503.50" cy="148.30" r="2.30" fill="#0c6b50"/>
<path d="M500.10 84.10V123.10M497.10 84.10H503.10M497.10 123.10H503.10" stroke="#0c6b50" stroke-width="1.1" fill="none"/>
<path d="M391.5 150.90H512.7" stroke="#1a1a1a" stroke-width="1"/>
<path d="M391.5 69.5V164.2H512.7" stroke="#1a1a1a" stroke-width="1.2" fill="none"/>
<path d="M388.5 72.50H391.5" stroke="#1a1a1a" stroke-width="1"/>
<text x="384.6" y="75.40" font-size="8.2" text-anchor="end" fill="#2b2b2b" font-weight="normal" textLength="11.76" lengthAdjust="spacingAndGlyphs" stroke="#2b2b2b" stroke-width="0.14">120</text>
<path d="M388.5 85.57H391.5" stroke="#1a1a1a" stroke-width="1"/>
<text x="384.6" y="88.47" font-size="8.2" text-anchor="end" fill="#2b2b2b" font-weight="normal" textLength="11.76" lengthAdjust="spacingAndGlyphs" stroke="#2b2b2b" stroke-width="0.14">100</text>
<path d="M388.5 98.63H391.5" stroke="#1a1a1a" stroke-width="1"/>
<text x="384.6" y="101.53" font-size="8.2" text-anchor="end" fill="#2b2b2b" font-weight="normal" textLength="7.84" lengthAdjust="spacingAndGlyphs" stroke="#2b2b2b" stroke-width="0.14">80</text>
<path d="M388.5 111.70H391.5" stroke="#1a1a1a" stroke-width="1"/>
<text x="384.6" y="114.60" font-size="8.2" text-anchor="end" fill="#2b2b2b" font-weight="normal" textLength="7.84" lengthAdjust="spacingAndGlyphs" stroke="#2b2b2b" stroke-width="0.14">60</text>
<path d="M388.5 124.77H391.5" stroke="#1a1a1a" stroke-width="1"/>
<text x="384.6" y="127.67" font-size="8.2" text-anchor="end" fill="#2b2b2b" font-weight="normal" textLength="7.84" lengthAdjust="spacingAndGlyphs" stroke="#2b2b2b" stroke-width="0.14">40</text>
<path d="M388.5 137.83H391.5" stroke="#1a1a1a" stroke-width="1"/>
<text x="384.6" y="140.73" font-size="8.2" text-anchor="end" fill="#2b2b2b" font-weight="normal" textLength="7.84" lengthAdjust="spacingAndGlyphs" stroke="#2b2b2b" stroke-width="0.14">20</text>
<path d="M388.5 150.90H391.5" stroke="#1a1a1a" stroke-width="1"/>
<text x="384.6" y="153.80" font-size="8.2" text-anchor="end" fill="#2b2b2b" font-weight="normal" textLength="3.92" lengthAdjust="spacingAndGlyphs" stroke="#2b2b2b" stroke-width="0.14">0</text>
<path d="M388.5 163.97H391.5" stroke="#1a1a1a" stroke-width="1"/>
<text x="384.6" y="166.87" font-size="8.2" text-anchor="end" fill="#2b2b2b" font-weight="normal" textLength="11.96" lengthAdjust="spacingAndGlyphs" stroke="#2b2b2b" stroke-width="0.14">−20</text>
<path d="M404.20 164.2V166.7" stroke="#1a1a1a" stroke-width="1"/>
<path d="M423.45 164.2V166.7" stroke="#1a1a1a" stroke-width="1"/>
<path d="M442.70 164.2V166.7" stroke="#1a1a1a" stroke-width="1"/>
<path d="M461.95 164.2V166.7" stroke="#1a1a1a" stroke-width="1"/>
<path d="M481.20 164.2V166.7" stroke="#1a1a1a" stroke-width="1"/>
<path d="M500.45 164.2V166.7" stroke="#1a1a1a" stroke-width="1"/>
<text transform="translate(406.70 175.50) rotate(-45)" font-size="8.6" text-anchor="end" fill="#2b2b2b" stroke="#2b2b2b" stroke-width="0.18" textLength="14.35" lengthAdjust="spacingAndGlyphs">N=8</text>
<text transform="translate(425.95 175.50) rotate(-45)" font-size="8.6" text-anchor="end" fill="#2b2b2b" stroke="#2b2b2b" stroke-width="0.18" textLength="18.64" lengthAdjust="spacingAndGlyphs">N=14</text>
<text transform="translate(445.20 175.50) rotate(-45)" font-size="8.6" text-anchor="end" fill="#2b2b2b" stroke="#2b2b2b" stroke-width="0.18" textLength="18.64" lengthAdjust="spacingAndGlyphs">N=19</text>
<text transform="translate(464.45 175.50) rotate(-45)" font-size="8.6" text-anchor="end" fill="#2b2b2b" stroke="#2b2b2b" stroke-width="0.18" textLength="18.64" lengthAdjust="spacingAndGlyphs">N=22</text>
<text transform="translate(483.70 175.50) rotate(-45)" font-size="8.6" text-anchor="end" fill="#2b2b2b" stroke="#2b2b2b" stroke-width="0.18" textLength="18.64" lengthAdjust="spacingAndGlyphs">N=19</text>
<text transform="translate(502.95 175.50) rotate(-45)" font-size="8.6" text-anchor="end" fill="#2b2b2b" stroke="#2b2b2b" stroke-width="0.18" textLength="18.64" lengthAdjust="spacingAndGlyphs">N=15</text>
<path d="M405 77H440.6M405 74.5V79.5M440.6 74.5V79.5" stroke="#383838" stroke-width="1.35" fill="none"/>
<polygon points="421.03,70.55 421.58,71.53 422.69,71.76 421.93,72.59 422.05,73.72 421.03,73.25 420.00,73.72 420.12,72.59 419.36,71.76 420.47,71.53" fill="#222"/>
<polygon points="424.57,70.55 425.13,71.53 426.24,71.76 425.48,72.59 425.60,73.72 424.57,73.25 423.55,73.72 423.67,72.59 422.91,71.76 424.02,71.53" fill="#222"/>
<path d="M420 61H440.6M420 58.5V63.5M440.6 58.5V63.5" stroke="#383838" stroke-width="1.35" fill="none"/>
<polygon points="426.75,54.55 427.31,55.53 428.41,55.76 427.65,56.59 427.78,57.72 426.75,57.25 425.72,57.72 425.85,56.59 425.09,55.76 426.19,55.53" fill="#222"/>
<polygon points="430.30,54.55 430.86,55.53 431.96,55.76 431.20,56.59 431.33,57.72 430.30,57.25 429.27,57.72 429.40,56.59 428.64,55.76 429.74,55.53" fill="#222"/>
<polygon points="433.85,54.55 434.41,55.53 435.51,55.76 434.75,56.59 434.88,57.72 433.85,57.25 432.82,57.72 432.95,56.59 432.19,55.76 433.29,55.53" fill="#222"/>
<path d="M442.5 29.5H501.5M442.5 27.0V32.0M501.5 27.0V32.0" stroke="#383838" stroke-width="1.35" fill="none"/>
<text x="456.30" y="25.0" font-size="7.6" text-anchor="start" fill="#333" font-weight="normal" textLength="30.30" lengthAdjust="spacingAndGlyphs" stroke="#333" stroke-width="0.12">P=0.062</text>
<path d="M442.5 49.5H481.7M442.5 47.0V52.0M481.7 47.0V52.0" stroke="#383838" stroke-width="1.35" fill="none"/>
<text x="444.70" y="44.4" font-size="7.6" text-anchor="start" fill="#333" font-weight="normal" textLength="34.60" lengthAdjust="spacingAndGlyphs" stroke="#333" stroke-width="0.12">P=0.0512</text>
<path d="M461.7 68.9H481.7M461.7 66.4V71.4M481.7 66.4V71.4" stroke="#383838" stroke-width="1.35" fill="none"/>
<polygon points="466.38,62.45 466.93,63.43 468.04,63.66 467.28,64.49 467.40,65.62 466.38,65.15 465.35,65.62 465.47,64.49 464.71,63.66 465.82,63.43" fill="#222"/>
<polygon points="469.93,62.45 470.48,63.43 471.59,63.66 470.83,64.49 470.95,65.62 469.93,65.15 468.90,65.62 469.02,64.49 468.26,63.66 469.37,63.43" fill="#222"/>
<polygon points="473.47,62.45 474.03,63.43 475.14,63.66 474.38,64.49 474.50,65.62 473.47,65.15 472.45,65.62 472.57,64.49 471.81,63.66 472.92,63.43" fill="#222"/>
<polygon points="477.02,62.45 477.58,63.43 478.69,63.66 477.93,64.49 478.05,65.62 477.02,65.15 476.00,65.62 476.12,64.49 475.36,63.66 476.47,63.43" fill="#222"/>
<rect x="72.30" y="332.00" width="12.60" height="1.60" fill="#8aa9cc" stroke="#6c93c0" stroke-width="0.6"/>
<rect x="91.35" y="310.50" width="12.90" height="23.10" fill="#a3dba6" stroke="#8fd494" stroke-width="0.6"/>
<rect x="110.60" y="331.80" width="12.60" height="1.80" fill="#b09cc4" stroke="#9a80b5" stroke-width="0.6"/>
<rect x="130.15" y="304.10" width="12.70" height="29.50" fill="#ffc98c" stroke="#ffbb70" stroke-width="0.6"/>
<rect x="149.60" y="311.60" width="12.00" height="22.00" fill="#72aa98" stroke="#5a9a86" stroke-width="0.6"/>
<circle cx="55.30" cy="333.60" r="2.24" fill="#c8102e"/>
<circle cx="56.37" cy="333.60" r="2.24" fill="#c8102e"/>
<circle cx="57.44" cy="333.60" r="2.24" fill="#c8102e"/>
<circle cx="58.51" cy="333.60" r="2.24" fill="#c8102e"/>
<circle cx="59.58" cy="333.60" r="2.24" fill="#c8102e"/>
<circle cx="60.65" cy="333.60" r="2.24" fill="#c8102e"/>
<circle cx="61.72" cy="333.60" r="2.24" fill="#c8102e"/>
<circle cx="62.79" cy="333.60" r="2.24" fill="#c8102e"/>
<rect x="72.30" y="330.30" width="3.40" height="3.40" fill="#1b5590"/>
<rect x="74.90" y="330.60" width="3.40" height="3.40" fill="#1b5590"/>
<rect x="77.50" y="330.60" width="3.40" height="3.40" fill="#1b5590"/>
<rect x="80.10" y="329.30" width="3.40" height="3.40" fill="#1b5590"/>
<rect x="81.30" y="328.90" width="3.40" height="3.40" fill="#1b5590"/>
<rect x="72.30" y="332.10" width="3.40" height="3.40" fill="#1b5590"/>
<rect x="74.90" y="332.10" width="3.40" height="3.40" fill="#1b5590"/>
<rect x="77.50" y="332.10" width="3.40" height="3.40" fill="#1b5590"/>
<rect x="80.10" y="332.10" width="3.40" height="3.40" fill="#1b5590"/>
<rect x="81.30" y="331.80" width="3.40" height="3.40" fill="#1b5590"/>
<path d="M97.80 271.39L99.90 274.97L95.70 274.97Z" fill="#2db045"/>
<path d="M94.80 280.99L96.90 284.57L92.70 284.57Z" fill="#2db045"/>
<path d="M101.00 279.89L103.10 283.47L98.90 283.47Z" fill="#2db045"/>
<path d="M94.80 288.99L96.90 292.57L92.70 292.57Z" fill="#2db045"/>
<path d="M97.80 290.49L99.90 294.07L95.70 294.07Z" fill="#2db045"/>
<path d="M100.50 291.39L102.60 294.97L98.40 294.97Z" fill="#2db045"/>
<path d="M96.00 291.99L98.10 295.57L93.90 295.57Z" fill="#2db045"/>
<path d="M99.50 292.39L101.60 295.97L97.40 295.97Z" fill="#2db045"/>
<path d="M101.50 310.09L103.60 313.67L99.40 313.67Z" fill="#2db045"/>
<path d="M92.00 313.69L94.10 317.27L89.90 317.27Z" fill="#2db045"/>
<path d="M94.50 317.69L96.60 321.27L92.40 321.27Z" fill="#2db045"/>
<path d="M100.50 318.69L102.60 322.27L98.40 322.27Z" fill="#2db045"/>
<path d="M97.80 322.29L99.90 325.87L95.70 325.87Z" fill="#2db045"/>
<path d="M101.00 323.19L103.10 326.77L98.90 326.77Z" fill="#2db045"/>
<path d="M94.80 326.79L96.90 330.37L92.70 330.37Z" fill="#2db045"/>
<path d="M97.80 325.89L99.90 329.47L95.70 329.47Z" fill="#2db045"/>
<path d="M99.00 316.29L101.10 319.87L96.90 319.87Z" fill="#2db045"/>
<path d="M96.00 320.29L98.10 323.87L93.90 323.87Z" fill="#2db045"/>
<path d="M100.00 328.29L102.10 331.87L97.90 331.87Z" fill="#2db045"/>
<path d="M102.50 319.79L104.60 323.37L100.40 323.37Z" fill="#2db045"/>
<path d="M93.50 331.39L95.60 334.97L91.40 334.97Z" fill="#2db045"/>
<path d="M97.80 331.39L99.90 334.97L95.70 334.97Z" fill="#2db045"/>
<path d="M102.00 331.39L104.10 334.97L99.90 334.97Z" fill="#2db045"/>
<path d="M97.80 295.00V329.00M94.80 295.00H100.80M94.80 329.00H100.80" stroke="#2db045" stroke-width="1.1" fill="none"/>
<path d="M116.90 311.90L119.10 314.10L116.90 316.30L114.70 314.10Z" fill="#4f1d73"/>
<path d="M114.30 325.10L116.50 327.30L114.30 329.50L112.10 327.30Z" fill="#4f1d73"/>
<path d="M119.50 327.80L121.70 330.00L119.50 332.20L117.30 330.00Z" fill="#4f1d73"/>
<path d="M117.20 328.80L119.40 331.00L117.20 333.20L115.00 331.00Z" fill="#4f1d73"/>
<path d="M115.50 332.40L117.70 334.60L115.50 336.80L113.30 334.60Z" fill="#4f1d73"/>
<path d="M118.00 332.80L120.20 335.00L118.00 337.20L115.80 335.00Z" fill="#4f1d73"/>
<path d="M120.00 332.40L122.20 334.60L120.00 336.80L117.80 334.60Z" fill="#4f1d73"/>
<path d="M116.90 329.50V336.50M113.90 329.50H119.90M113.90 336.50H119.90" stroke="#4f1d73" stroke-width="1.1" fill="none"/>
<path d="M136.50 273.11L138.60 269.53L134.40 269.53Z" fill="#ff8400"/>
<path d="M132.50 286.71L134.60 283.13L130.40 283.13Z" fill="#ff8400"/>
<path d="M136.50 287.61L138.60 284.03L134.40 284.03Z" fill="#ff8400"/>
<path d="M140.50 286.71L142.60 283.13L138.40 283.13Z" fill="#ff8400"/>
<path d="M134.00 290.31L136.10 286.73L131.90 286.73Z" fill="#ff8400"/>
<path d="M139.00 290.31L141.10 286.73L136.90 286.73Z" fill="#ff8400"/>
<path d="M133.00 294.01L135.10 290.43L130.90 290.43Z" fill="#ff8400"/>
<path d="M140.50 294.01L142.60 290.43L138.40 290.43Z" fill="#ff8400"/>
<path d="M136.50 295.71L138.60 292.13L134.40 292.13Z" fill="#ff8400"/>
<path d="M131.80 302.21L133.90 298.63L129.70 298.63Z" fill="#ff8400"/>
<path d="M140.50 302.21L142.60 298.63L138.40 298.63Z" fill="#ff8400"/>
<path d="M136.50 310.31L138.60 306.73L134.40 306.73Z" fill="#ff8400"/>
<path d="M131.80 313.61L133.90 310.03L129.70 310.03Z" fill="#ff8400"/>
<path d="M140.50 313.61L142.60 310.03L138.40 310.03Z" fill="#ff8400"/>
<path d="M136.50 316.71L138.60 313.13L134.40 313.13Z" fill="#ff8400"/>
<path d="M133.00 319.41L135.10 315.83L130.90 315.83Z" fill="#ff8400"/>
<path d="M140.00 318.51L142.10 314.93L137.90 314.93Z" fill="#ff8400"/>
<path d="M136.50 321.21L138.60 317.63L134.40 317.63Z" fill="#ff8400"/>
<path d="M132.50 335.41L134.60 331.83L130.40 331.83Z" fill="#ff8400"/>
<path d="M140.50 335.41L142.60 331.83L138.40 331.83Z" fill="#ff8400"/>
<path d="M136.50 285.00V319.50M133.50 285.00H139.50M133.50 319.50H139.50" stroke="#ff8400" stroke-width="1.1" fill="none"/>
<circle cx="155.80" cy="284.60" r="2.30" fill="#0c6b50"/>
<circle cx="152.20" cy="299.60" r="2.30" fill="#0c6b50"/>
<circle cx="159.30" cy="299.10" r="2.30" fill="#0c6b50"/>
<circle cx="155.80" cy="300.20" r="2.30" fill="#0c6b50"/>
<circle cx="155.80" cy="303.10" r="2.30" fill="#0c6b50"/>
<circle cx="152.70" cy="306.70" r="2.30" fill="#0c6b50"/>
<circle cx="158.70" cy="306.70" r="2.30" fill="#0c6b50"/>
<circle cx="155.00" cy="309.40" r="2.30" fill="#0c6b50"/>
<circle cx="154.40" cy="311.60" r="2.30" fill="#0c6b50"/>
<circle cx="152.20" cy="317.10" r="2.30" fill="#0c6b50"/>
<circle cx="155.80" cy="318.20" r="2.30" fill="#0c6b50"/>
<circle cx="159.30" cy="317.60" r="2.30" fill="#0c6b50"/>
<circle cx="155.80" cy="319.80" r="2.30" fill="#0c6b50"/>
<circle cx="153.50" cy="320.50" r="2.30" fill="#0c6b50"/>
<circle cx="158.00" cy="320.50" r="2.30" fill="#0c6b50"/>
<circle cx="155.60" cy="333.70" r="2.30" fill="#0c6b50"/>
<path d="M155.60 300.00V318.00M152.60 300.00H158.60M152.60 318.00H158.60" stroke="#0c6b50" stroke-width="1.1" fill="none"/>
<path d="M46.5 333.60H168.9" stroke="#1a1a1a" stroke-width="1"/>
<path d="M46.5 258.75V351.5H168.9" stroke="#1a1a1a" stroke-width="1.2" fill="none"/>
<path d="M43.5 262.00H46.5" stroke="#1a1a1a" stroke-width="1"/>
<text x="39.6" y="264.90" font-size="8.2" text-anchor="end" fill="#2b2b2b" font-weight="normal" textLength="7.84" lengthAdjust="spacingAndGlyphs" stroke="#2b2b2b" stroke-width="0.14">40</text>
<path d="M43.5 279.90H46.5" stroke="#1a1a1a" stroke-width="1"/>
<text x="39.6" y="282.80" font-size="8.2" text-anchor="end" fill="#2b2b2b" font-weight="normal" textLength="7.84" lengthAdjust="spacingAndGlyphs" stroke="#2b2b2b" stroke-width="0.14">30</text>
<path d="M43.5 297.80H46.5" stroke="#1a1a1a" stroke-width="1"/>
<text x="39.6" y="300.70" font-size="8.2" text-anchor="end" fill="#2b2b2b" font-weight="normal" textLength="7.84" lengthAdjust="spacingAndGlyphs" stroke="#2b2b2b" stroke-width="0.14">20</text>
<path d="M43.5 315.70H46.5" stroke="#1a1a1a" stroke-width="1"/>
<text x="39.6" y="318.60" font-size="8.2" text-anchor="end" fill="#2b2b2b" font-weight="normal" textLength="7.84" lengthAdjust="spacingAndGlyphs" stroke="#2b2b2b" stroke-width="0.14">10</text>
<path d="M43.5 333.60H46.5" stroke="#1a1a1a" stroke-width="1"/>
<text x="39.6" y="336.50" font-size="8.2" text-anchor="end" fill="#2b2b2b" font-weight="normal" textLength="3.92" lengthAdjust="spacingAndGlyphs" stroke="#2b2b2b" stroke-width="0.14">0</text>
<path d="M43.5 351.50H46.5" stroke="#1a1a1a" stroke-width="1"/>
<text x="39.6" y="354.40" font-size="8.2" text-anchor="end" fill="#2b2b2b" font-weight="normal" textLength="11.96" lengthAdjust="spacingAndGlyphs" stroke="#2b2b2b" stroke-width="0.14">−10</text>
<path d="M59.30 351.5V354.0" stroke="#1a1a1a" stroke-width="1"/>
<path d="M78.60 351.5V354.0" stroke="#1a1a1a" stroke-width="1"/>
<path d="M97.90 351.5V354.0" stroke="#1a1a1a" stroke-width="1"/>
<path d="M117.20 351.5V354.0" stroke="#1a1a1a" stroke-width="1"/>
<path d="M136.50 351.5V354.0" stroke="#1a1a1a" stroke-width="1"/>
<path d="M155.80 351.5V354.0" stroke="#1a1a1a" stroke-width="1"/>
<text transform="translate(61.80 362.80) rotate(-45)" font-size="8.6" text-anchor="end" fill="#2b2b2b" stroke="#2b2b2b" stroke-width="0.18" textLength="14.35" lengthAdjust="spacingAndGlyphs">N=8</text>
<text transform="translate(81.10 362.80) rotate(-45)" font-size="8.6" text-anchor="end" fill="#2b2b2b" stroke="#2b2b2b" stroke-width="0.18" textLength="18.64" lengthAdjust="spacingAndGlyphs">N=14</text>
<text transform="translate(100.40 362.80) rotate(-45)" font-size="8.6" text-anchor="end" fill="#2b2b2b" stroke="#2b2b2b" stroke-width="0.18" textLength="18.64" lengthAdjust="spacingAndGlyphs">N=19</text>
<text transform="translate(119.70 362.80) rotate(-45)" font-size="8.6" text-anchor="end" fill="#2b2b2b" stroke="#2b2b2b" stroke-width="0.18" textLength="18.64" lengthAdjust="spacingAndGlyphs">N=22</text>
<text transform="translate(139.00 362.80) rotate(-45)" font-size="8.6" text-anchor="end" fill="#2b2b2b" stroke="#2b2b2b" stroke-width="0.18" textLength="18.64" lengthAdjust="spacingAndGlyphs">N=19</text>
<text transform="translate(158.30 362.80) rotate(-45)" font-size="8.6" text-anchor="end" fill="#2b2b2b" stroke="#2b2b2b" stroke-width="0.18" textLength="18.64" lengthAdjust="spacingAndGlyphs">N=15</text>
<path d="M61.5 262H97.9M61.5 259.5V264.5M97.9 259.5V264.5" stroke="#383838" stroke-width="1.35" fill="none"/>
<polygon points="76.42,255.55 76.98,256.53 78.09,256.76 77.33,257.59 77.45,258.72 76.42,258.25 75.40,258.72 75.52,257.59 74.76,256.76 75.87,256.53" fill="#222"/>
<polygon points="79.98,255.55 80.53,256.53 81.64,256.76 80.88,257.59 81.00,258.72 79.98,258.25 78.95,258.72 79.07,257.59 78.31,256.76 79.42,256.53" fill="#222"/>
<path d="M82.5 242.5H97.9M82.5 240.0V245.0M97.9 240.0V245.0" stroke="#383838" stroke-width="1.35" fill="none"/>
<polygon points="86.65,236.05 87.21,237.03 88.31,237.26 87.55,238.09 87.68,239.22 86.65,238.75 85.62,239.22 85.75,238.09 84.99,237.26 86.09,237.03" fill="#222"/>
<polygon points="90.20,236.05 90.76,237.03 91.86,237.26 91.10,238.09 91.23,239.22 90.20,238.75 89.17,239.22 89.30,238.09 88.54,237.26 89.64,237.03" fill="#222"/>
<polygon points="93.75,236.05 94.31,237.03 95.41,237.26 94.65,238.09 94.78,239.22 93.75,238.75 92.72,239.22 92.85,238.09 92.09,237.26 93.19,237.03" fill="#222"/>
<path d="M121.4 261.4H136.5M121.4 258.9V263.9M136.5 258.9V263.9" stroke="#383838" stroke-width="1.35" fill="none"/>
<polygon points="123.62,254.95 124.18,255.93 125.29,256.16 124.53,256.99 124.65,258.12 123.62,257.65 122.60,258.12 122.72,256.99 121.96,256.16 123.07,255.93" fill="#222"/>
<polygon points="127.17,254.95 127.73,255.93 128.84,256.16 128.08,256.99 128.20,258.12 127.17,257.65 126.15,258.12 126.27,256.99 125.51,256.16 126.62,255.93" fill="#222"/>
<polygon points="130.72,254.95 131.28,255.93 132.39,256.16 131.63,256.99 131.75,258.12 130.72,257.65 129.70,258.12 129.82,256.99 129.06,256.16 130.17,255.93" fill="#222"/>
<polygon points="134.27,254.95 134.83,255.93 135.94,256.16 135.18,256.99 135.30,258.12 134.27,257.65 133.25,258.12 133.37,256.99 132.61,256.16 133.72,255.93" fill="#222"/>
<rect x="245.20" y="335.60" width="12.40" height="4.90" fill="#8aa9cc" stroke="#6c93c0" stroke-width="0.6"/>
<rect x="263.70" y="312.90" width="13.00" height="27.60" fill="#a3dba6" stroke="#8fd494" stroke-width="0.6"/>
<rect x="283.50" y="336.70" width="11.80" height="3.80" fill="#b09cc4" stroke="#9a80b5" stroke-width="0.6"/>
<rect x="301.75" y="315.00" width="13.30" height="25.50" fill="#ffc98c" stroke="#ffbb70" stroke-width="0.6"/>
<rect x="321.10" y="316.40" width="13.00" height="24.10" fill="#72aa98" stroke="#5a9a86" stroke-width="0.6"/>
<circle cx="228.40" cy="340.50" r="2.24" fill="#c8102e"/>
<circle cx="229.47" cy="340.50" r="2.24" fill="#c8102e"/>
<circle cx="230.54" cy="340.50" r="2.24" fill="#c8102e"/>
<circle cx="231.61" cy="340.50" r="2.24" fill="#c8102e"/>
<circle cx="232.68" cy="340.50" r="2.24" fill="#c8102e"/>
<circle cx="233.75" cy="340.50" r="2.24" fill="#c8102e"/>
<circle cx="234.82" cy="340.50" r="2.24" fill="#c8102e"/>
<circle cx="235.89" cy="340.50" r="2.24" fill="#c8102e"/>
<rect x="246.10" y="301.20" width="3.60" height="3.60" fill="#1b5590"/>
<rect x="252.30" y="301.80" width="3.60" height="3.60" fill="#1b5590"/>
<rect x="244.90" y="337.30" width="3.40" height="3.40" fill="#1b5590"/>
<rect x="247.30" y="337.30" width="3.40" height="3.40" fill="#1b5590"/>
<rect x="249.70" y="337.30" width="3.40" height="3.40" fill="#1b5590"/>
<rect x="252.10" y="337.30" width="3.40" height="3.40" fill="#1b5590"/>
<rect x="254.50" y="337.30" width="3.40" height="3.40" fill="#1b5590"/>
<rect x="244.90" y="339.50" width="3.40" height="3.40" fill="#1b5590"/>
<rect x="247.30" y="339.50" width="3.40" height="3.40" fill="#1b5590"/>
<rect x="249.70" y="339.50" width="3.40" height="3.40" fill="#1b5590"/>
<rect x="252.10" y="339.50" width="3.40" height="3.40" fill="#1b5590"/>
<rect x="254.50" y="339.50" width="3.40" height="3.40" fill="#1b5590"/>
<path d="M251.40 321.50V348.40M248.40 321.50H254.40M248.40 348.40H254.40" stroke="#1b5590" stroke-width="1.1" fill="none"/>
<path d="M270.00 276.89L272.10 280.47L267.90 280.47Z" fill="#2db045"/>
<path d="M266.50 298.09L268.60 301.67L264.40 301.67Z" fill="#2db045"/>
<path d="M273.50 298.09L275.60 301.67L271.40 301.67Z" fill="#2db045"/>
<path d="M270.00 298.69L272.10 302.27L267.90 302.27Z" fill="#2db045"/>
<path d="M266.80 300.39L268.90 303.97L264.70 303.97Z" fill="#2db045"/>
<path d="M273.20 300.39L275.30 303.97L271.10 303.97Z" fill="#2db045"/>
<path d="M270.00 306.29L272.10 309.87L267.90 309.87Z" fill="#2db045"/>
<path d="M270.00 313.19L272.10 316.77L267.90 316.77Z" fill="#2db045"/>
<path d="M266.00 322.79L268.10 326.37L263.90 326.37Z" fill="#2db045"/>
<path d="M270.00 324.29L272.10 327.87L267.90 327.87Z" fill="#2db045"/>
<path d="M275.00 322.79L277.10 326.37L272.90 326.37Z" fill="#2db045"/>
<path d="M266.00 331.09L268.10 334.67L263.90 334.67Z" fill="#2db045"/>
<path d="M275.00 333.79L277.10 337.37L272.90 337.37Z" fill="#2db045"/>
<path d="M266.00 338.79L268.10 342.37L263.90 342.37Z" fill="#2db045"/>
<path d="M270.00 338.79L272.10 342.37L267.90 342.37Z" fill="#2db045"/>
<path d="M274.00 338.79L276.10 342.37L271.90 342.37Z" fill="#2db045"/>
<path d="M270.20 295.20V330.20M267.20 295.20H273.20M267.20 330.20H273.20" stroke="#2db045" stroke-width="1.1" fill="none"/>
<path d="M289.50 295.00L291.70 297.20L289.50 299.40L287.30 297.20Z" fill="#4f1d73"/>
<path d="M289.50 310.10L291.70 312.30L289.50 314.50L287.30 312.30Z" fill="#4f1d73"/>
<path d="M289.50 323.60L291.70 325.80L289.50 328.00L287.30 325.80Z" fill="#4f1d73"/>
<path d="M285.20 338.33L287.07 340.20L285.20 342.07L283.33 340.20Z" fill="#4f1d73"/>
<path d="M287.35 338.33L289.22 340.20L287.35 342.07L285.48 340.20Z" fill="#4f1d73"/>
<path d="M289.50 338.33L291.37 340.20L289.50 342.07L287.63 340.20Z" fill="#4f1d73"/>
<path d="M291.65 338.33L293.52 340.20L291.65 342.07L289.78 340.20Z" fill="#4f1d73"/>
<path d="M293.80 338.33L295.67 340.20L293.80 342.07L291.93 340.20Z" fill="#4f1d73"/>
<path d="M286.50 337.35L288.15 339.00L286.50 340.65L284.85 339.00Z" fill="#4f1d73"/>
<path d="M289.50 337.35L291.15 339.00L289.50 340.65L287.85 339.00Z" fill="#4f1d73"/>
<path d="M292.50 337.35L294.15 339.00L292.50 340.65L290.85 339.00Z" fill="#4f1d73"/>
<path d="M289.40 325.30V347.30M286.40 325.30H292.40M286.40 347.30H292.40" stroke="#4f1d73" stroke-width="1.1" fill="none"/>
<path d="M305.00 290.01L307.10 286.43L302.90 286.43Z" fill="#ff8400"/>
<path d="M311.50 293.71L313.60 290.13L309.40 290.13Z" fill="#ff8400"/>
<path d="M304.50 299.71L306.60 296.13L302.40 296.13Z" fill="#ff8400"/>
<path d="M308.30 300.51L310.40 296.93L306.20 296.93Z" fill="#ff8400"/>
<path d="M311.50 301.41L313.60 297.83L309.40 297.83Z" fill="#ff8400"/>
<path d="M305.00 308.21L307.10 304.63L302.90 304.63Z" fill="#ff8400"/>
<path d="M311.00 309.91L313.10 306.33L308.90 306.33Z" fill="#ff8400"/>
<path d="M308.30 312.41L310.40 308.83L306.20 308.83Z" fill="#ff8400"/>
<path d="M308.30 317.51L310.40 313.93L306.20 313.93Z" fill="#ff8400"/>
<path d="M304.50 324.01L306.60 320.43L302.40 320.43Z" fill="#ff8400"/>
<path d="M311.50 324.01L313.60 320.43L309.40 320.43Z" fill="#ff8400"/>
<path d="M308.30 326.01L310.40 322.43L306.20 322.43Z" fill="#ff8400"/>
<path d="M305.00 328.61L307.10 325.03L302.90 325.03Z" fill="#ff8400"/>
<path d="M311.50 328.61L313.60 325.03L309.40 325.03Z" fill="#ff8400"/>
<path d="M308.30 331.11L310.40 327.53L306.20 327.53Z" fill="#ff8400"/>
<path d="M305.00 342.01L307.10 338.43L302.90 338.43Z" fill="#ff8400"/>
<path d="M311.50 342.01L313.60 338.43L309.40 338.43Z" fill="#ff8400"/>
<path d="M308.40 298.50V329.40M305.40 298.50H311.40M305.40 329.40H311.40" stroke="#ff8400" stroke-width="1.1" fill="none"/>
<circle cx="327.10" cy="300.10" r="2.30" fill="#0c6b50"/>
<circle cx="324.10" cy="307.70" r="2.30" fill="#0c6b50"/>
<circle cx="327.00" cy="306.80" r="2.30" fill="#0c6b50"/>
<circle cx="330.80" cy="308.10" r="2.30" fill="#0c6b50"/>
<circle cx="324.50" cy="310.60" r="2.30" fill="#0c6b50"/>
<circle cx="330.50" cy="310.20" r="2.30" fill="#0c6b50"/>
<circle cx="327.00" cy="309.00" r="2.30" fill="#0c6b50"/>
<circle cx="324.10" cy="314.20" r="2.30" fill="#0c6b50"/>
<circle cx="330.80" cy="313.80" r="2.30" fill="#0c6b50"/>
<circle cx="327.00" cy="316.00" r="2.30" fill="#0c6b50"/>
<circle cx="327.50" cy="312.00" r="2.30" fill="#0c6b50"/>
<circle cx="330.80" cy="320.50" r="2.30" fill="#0c6b50"/>
<circle cx="324.10" cy="323.90" r="2.30" fill="#0c6b50"/>
<circle cx="327.10" cy="325.90" r="2.30" fill="#0c6b50"/>
<circle cx="329.00" cy="324.70" r="2.30" fill="#0c6b50"/>
<circle cx="327.00" cy="340.10" r="2.30" fill="#0c6b50"/>
<path d="M219.5 340.50H340" stroke="#1a1a1a" stroke-width="1"/>
<path d="M219.5 258.75V351.6H340" stroke="#1a1a1a" stroke-width="1.2" fill="none"/>
<path d="M216.5 262.03H219.5" stroke="#1a1a1a" stroke-width="1"/>
<text x="212.6" y="264.93" font-size="8.2" text-anchor="end" fill="#2b2b2b" font-weight="normal" textLength="7.84" lengthAdjust="spacingAndGlyphs" stroke="#2b2b2b" stroke-width="0.14">70</text>
<path d="M216.5 284.45H219.5" stroke="#1a1a1a" stroke-width="1"/>
<text x="212.6" y="287.35" font-size="8.2" text-anchor="end" fill="#2b2b2b" font-weight="normal" textLength="7.84" lengthAdjust="spacingAndGlyphs" stroke="#2b2b2b" stroke-width="0.14">50</text>
<path d="M216.5 306.87H219.5" stroke="#1a1a1a" stroke-width="1"/>
<text x="212.6" y="309.77" font-size="8.2" text-anchor="end" fill="#2b2b2b" font-weight="normal" textLength="7.84" lengthAdjust="spacingAndGlyphs" stroke="#2b2b2b" stroke-width="0.14">30</text>
<path d="M216.5 329.29H219.5" stroke="#1a1a1a" stroke-width="1"/>
<text x="212.6" y="332.19" font-size="8.2" text-anchor="end" fill="#2b2b2b" font-weight="normal" textLength="7.84" lengthAdjust="spacingAndGlyphs" stroke="#2b2b2b" stroke-width="0.14">10</text>
<path d="M216.5 340.50H219.5" stroke="#1a1a1a" stroke-width="1"/>
<path d="M216.5 351.71H219.5" stroke="#1a1a1a" stroke-width="1"/>
<text x="212.6" y="354.61" font-size="8.2" text-anchor="end" fill="#2b2b2b" font-weight="normal" textLength="11.96" lengthAdjust="spacingAndGlyphs" stroke="#2b2b2b" stroke-width="0.14">−10</text>
<path d="M232.30 351.6V354.1" stroke="#1a1a1a" stroke-width="1"/>
<path d="M251.30 351.6V354.1" stroke="#1a1a1a" stroke-width="1"/>
<path d="M270.30 351.6V354.1" stroke="#1a1a1a" stroke-width="1"/>
<path d="M289.30 351.6V354.1" stroke="#1a1a1a" stroke-width="1"/>
<path d="M308.30 351.6V354.1" stroke="#1a1a1a" stroke-width="1"/>
<path d="M327.30 351.6V354.1" stroke="#1a1a1a" stroke-width="1"/>
<text transform="translate(234.80 362.90) rotate(-45)" font-size="8.6" text-anchor="end" fill="#2b2b2b" stroke="#2b2b2b" stroke-width="0.18" textLength="14.35" lengthAdjust="spacingAndGlyphs">N=8</text>
<text transform="translate(253.80 362.90) rotate(-45)" font-size="8.6" text-anchor="end" fill="#2b2b2b" stroke="#2b2b2b" stroke-width="0.18" textLength="18.64" lengthAdjust="spacingAndGlyphs">N=14</text>
<text transform="translate(272.80 362.90) rotate(-45)" font-size="8.6" text-anchor="end" fill="#2b2b2b" stroke="#2b2b2b" stroke-width="0.18" textLength="18.64" lengthAdjust="spacingAndGlyphs">N=19</text>
<text transform="translate(291.80 362.90) rotate(-45)" font-size="8.6" text-anchor="end" fill="#2b2b2b" stroke="#2b2b2b" stroke-width="0.18" textLength="18.64" lengthAdjust="spacingAndGlyphs">N=22</text>
<text transform="translate(310.80 362.90) rotate(-45)" font-size="8.6" text-anchor="end" fill="#2b2b2b" stroke="#2b2b2b" stroke-width="0.18" textLength="18.64" lengthAdjust="spacingAndGlyphs">N=19</text>
<text transform="translate(329.80 362.90) rotate(-45)" font-size="8.6" text-anchor="end" fill="#2b2b2b" stroke="#2b2b2b" stroke-width="0.18" textLength="18.64" lengthAdjust="spacingAndGlyphs">N=15</text>
<path d="M232 268.7H268M232 266.2V271.2M268 266.2V271.2" stroke="#383838" stroke-width="1.35" fill="none"/>
<polygon points="246.45,262.25 247.01,263.23 248.11,263.46 247.35,264.29 247.48,265.42 246.45,264.95 245.42,265.42 245.55,264.29 244.79,263.46 245.89,263.23" fill="#222"/>
<polygon points="250.00,262.25 250.56,263.23 251.66,263.46 250.90,264.29 251.03,265.42 250.00,264.95 248.97,265.42 249.10,264.29 248.34,263.46 249.44,263.23" fill="#222"/>
<polygon points="253.55,262.25 254.11,263.23 255.21,263.46 254.45,264.29 254.58,265.42 253.55,264.95 252.52,265.42 252.65,264.29 251.89,263.46 252.99,263.23" fill="#222"/>
<path d="M253.2 249.5H268M253.2 247.0V252.0M268 247.0V252.0" stroke="#383838" stroke-width="1.35" fill="none"/>
<polygon points="257.05,243.05 257.61,244.03 258.71,244.26 257.95,245.09 258.08,246.22 257.05,245.75 256.02,246.22 256.15,245.09 255.39,244.26 256.49,244.03" fill="#222"/>
<polygon points="260.60,243.05 261.16,244.03 262.26,244.26 261.50,245.09 261.63,246.22 260.60,245.75 259.57,246.22 259.70,245.09 258.94,244.26 260.04,244.03" fill="#222"/>
<polygon points="264.15,243.05 264.71,244.03 265.81,244.26 265.05,245.09 265.18,246.22 264.15,245.75 263.12,246.22 263.25,245.09 262.49,244.26 263.59,244.03" fill="#222"/>
<path d="M292.5 275.7H307.5M292.5 273.2V278.2M307.5 273.2V278.2" stroke="#383838" stroke-width="1.35" fill="none"/>
<polygon points="294.68,269.25 295.23,270.23 296.34,270.46 295.58,271.29 295.70,272.42 294.68,271.95 293.65,272.42 293.77,271.29 293.01,270.46 294.12,270.23" fill="#222"/>
<polygon points="298.23,269.25 298.78,270.23 299.89,270.46 299.13,271.29 299.25,272.42 298.23,271.95 297.20,272.42 297.32,271.29 296.56,270.46 297.67,270.23" fill="#222"/>
<polygon points="301.77,269.25 302.33,270.23 303.44,270.46 302.68,271.29 302.80,272.42 301.77,271.95 300.75,272.42 300.87,271.29 300.11,270.46 301.22,270.23" fill="#222"/>
<polygon points="305.32,269.25 305.88,270.23 306.99,270.46 306.23,271.29 306.35,272.42 305.32,271.95 304.30,272.42 304.42,271.29 303.66,270.46 304.77,270.23" fill="#222"/>
<rect x="417.00" y="331.10" width="12.80" height="5.40" fill="#8aa9cc" stroke="#6c93c0" stroke-width="0.6"/>
<rect x="436.00" y="296.00" width="12.80" height="40.50" fill="#a3dba6" stroke="#8fd494" stroke-width="0.6"/>
<rect x="455.60" y="330.20" width="12.00" height="6.30" fill="#b09cc4" stroke="#9a80b5" stroke-width="0.6"/>
<rect x="475.20" y="293.00" width="11.80" height="43.50" fill="#ffc98c" stroke="#ffbb70" stroke-width="0.6"/>
<rect x="493.80" y="289.90" width="12.80" height="46.60" fill="#72aa98" stroke="#5a9a86" stroke-width="0.6"/>
<circle cx="400.30" cy="336.50" r="2.24" fill="#c8102e"/>
<circle cx="401.37" cy="336.50" r="2.24" fill="#c8102e"/>
<circle cx="402.44" cy="336.50" r="2.24" fill="#c8102e"/>
<circle cx="403.51" cy="336.50" r="2.24" fill="#c8102e"/>
<circle cx="404.58" cy="336.50" r="2.24" fill="#c8102e"/>
<circle cx="405.65" cy="336.50" r="2.24" fill="#c8102e"/>
<circle cx="406.72" cy="336.50" r="2.24" fill="#c8102e"/>
<circle cx="407.79" cy="336.50" r="2.24" fill="#c8102e"/>
<rect x="418.40" y="295.40" width="3.60" height="3.60" fill="#1b5590"/>
<rect x="424.80" y="295.40" width="3.60" height="3.60" fill="#1b5590"/>
<rect x="416.90" y="333.50" width="3.40" height="3.40" fill="#1b5590"/>
<rect x="419.30" y="333.50" width="3.40" height="3.40" fill="#1b5590"/>
<rect x="421.70" y="333.50" width="3.40" height="3.40" fill="#1b5590"/>
<rect x="424.10" y="333.50" width="3.40" height="3.40" fill="#1b5590"/>
<rect x="426.50" y="333.50" width="3.40" height="3.40" fill="#1b5590"/>
<rect x="416.90" y="335.70" width="3.40" height="3.40" fill="#1b5590"/>
<rect x="419.30" y="335.70" width="3.40" height="3.40" fill="#1b5590"/>
<rect x="421.70" y="335.70" width="3.40" height="3.40" fill="#1b5590"/>
<rect x="424.10" y="335.70" width="3.40" height="3.40" fill="#1b5590"/>
<rect x="426.50" y="335.70" width="3.40" height="3.40" fill="#1b5590"/>
<path d="M423.40 316.80V345.70M420.40 316.80H426.40M420.40 345.70H426.40" stroke="#1b5590" stroke-width="1.1" fill="none"/>
<path d="M442.40 267.19L444.50 270.77L440.30 270.77Z" fill="#2db045"/>
<path d="M438.90 272.59L441.00 276.17L436.80 276.17Z" fill="#2db045"/>
<path d="M446.00 274.79L448.10 278.37L443.90 278.37Z" fill="#2db045"/>
<path d="M442.60 277.19L444.70 280.77L440.50 280.77Z" fill="#2db045"/>
<path d="M439.20 281.09L441.30 284.67L437.10 284.67Z" fill="#2db045"/>
<path d="M448.60 283.79L450.70 287.37L446.50 287.37Z" fill="#2db045"/>
<path d="M438.90 289.79L441.00 293.37L436.80 293.37Z" fill="#2db045"/>
<path d="M445.70 287.89L447.80 291.47L443.60 291.47Z" fill="#2db045"/>
<path d="M445.70 289.99L447.80 293.57L443.60 293.57Z" fill="#2db045"/>
<path d="M439.70 295.59L441.80 299.17L437.60 299.17Z" fill="#2db045"/>
<path d="M442.50 293.19L444.60 296.77L440.40 296.77Z" fill="#2db045"/>
<path d="M445.30 302.19L447.40 305.77L443.20 305.77Z" fill="#2db045"/>
<path d="M438.00 334.29L440.10 337.87L435.90 337.87Z" fill="#2db045"/>
<path d="M442.40 334.29L444.50 337.87L440.30 337.87Z" fill="#2db045"/>
<path d="M446.50 334.29L448.60 337.87L444.40 337.87Z" fill="#2db045"/>
<path d="M442.40 275.10V315.80M439.40 275.10H445.40M439.40 315.80H445.40" stroke="#2db045" stroke-width="1.1" fill="none"/>
<path d="M462.30 275.40L464.50 277.60L462.30 279.80L460.10 277.60Z" fill="#4f1d73"/>
<path d="M458.50 289.10L460.70 291.30L458.50 293.50L456.30 291.30Z" fill="#4f1d73"/>
<path d="M466.50 289.10L468.70 291.30L466.50 293.50L464.30 291.30Z" fill="#4f1d73"/>
<path d="M457.60 334.43L459.47 336.30L457.60 338.17L455.73 336.30Z" fill="#4f1d73"/>
<path d="M459.80 334.43L461.67 336.30L459.80 338.17L457.93 336.30Z" fill="#4f1d73"/>
<path d="M462.00 334.43L463.87 336.30L462.00 338.17L460.13 336.30Z" fill="#4f1d73"/>
<path d="M464.20 334.43L466.07 336.30L464.20 338.17L462.33 336.30Z" fill="#4f1d73"/>
<path d="M466.40 334.43L468.27 336.30L466.40 338.17L464.53 336.30Z" fill="#4f1d73"/>
<path d="M459.00 333.55L460.65 335.20L459.00 336.85L457.35 335.20Z" fill="#4f1d73"/>
<path d="M462.00 333.55L463.65 335.20L462.00 336.85L460.35 335.20Z" fill="#4f1d73"/>
<path d="M465.00 333.55L466.65 335.20L465.00 336.85L463.35 335.20Z" fill="#4f1d73"/>
<path d="M461.60 312.50V347.50M458.60 312.50H464.60M458.60 347.50H464.60" stroke="#4f1d73" stroke-width="1.1" fill="none"/>
<path d="M474.60 272.01L476.70 268.43L472.50 268.43Z" fill="#ff8400"/>
<path d="M487.00 274.51L489.10 270.93L484.90 270.93Z" fill="#ff8400"/>
<path d="M477.90 277.21L480.00 273.63L475.80 273.63Z" fill="#ff8400"/>
<path d="M483.50 277.21L485.60 273.63L481.40 273.63Z" fill="#ff8400"/>
<path d="M481.00 276.11L483.10 272.53L478.90 272.53Z" fill="#ff8400"/>
<path d="M478.00 281.31L480.10 277.73L475.90 277.73Z" fill="#ff8400"/>
<path d="M484.00 281.31L486.10 277.73L481.90 277.73Z" fill="#ff8400"/>
<path d="M474.00 288.51L476.10 284.93L471.90 284.93Z" fill="#ff8400"/>
<path d="M487.50 289.51L489.60 285.93L485.40 285.93Z" fill="#ff8400"/>
<path d="M478.50 292.61L480.60 289.03L476.40 289.03Z" fill="#ff8400"/>
<path d="M484.00 292.61L486.10 289.03L481.90 289.03Z" fill="#ff8400"/>
<path d="M481.00 293.71L483.10 290.13L478.90 290.13Z" fill="#ff8400"/>
<path d="M476.50 296.31L478.60 292.73L474.40 292.73Z" fill="#ff8400"/>
<path d="M485.00 297.81L487.10 294.23L482.90 294.23Z" fill="#ff8400"/>
<path d="M481.00 299.81L483.10 296.23L478.90 296.23Z" fill="#ff8400"/>
<path d="M479.00 301.91L481.10 298.33L476.90 298.33Z" fill="#ff8400"/>
<path d="M483.00 301.91L485.10 298.33L480.90 298.33Z" fill="#ff8400"/>
<path d="M481.00 305.01L483.10 301.43L478.90 301.43Z" fill="#ff8400"/>
<path d="M477.00 338.21L479.10 334.63L474.90 334.63Z" fill="#ff8400"/>
<path d="M484.00 338.21L486.10 334.63L481.90 334.63Z" fill="#ff8400"/>
<path d="M481.10 274.50V310.50M478.10 274.50H484.10M478.10 310.50H484.10" stroke="#ff8400" stroke-width="1.1" fill="none"/>
<circle cx="496.60" cy="277.90" r="2.30" fill="#0c6b50"/>
<circle cx="503.50" cy="277.90" r="2.30" fill="#0c6b50"/>
<circle cx="500.00" cy="282.20" r="2.30" fill="#0c6b50"/>
<circle cx="496.20" cy="284.90" r="2.30" fill="#0c6b50"/>
<circle cx="503.80" cy="284.90" r="2.30" fill="#0c6b50"/>
<circle cx="500.00" cy="285.30" r="2.30" fill="#0c6b50"/>
<circle cx="498.00" cy="287.30" r="2.30" fill="#0c6b50"/>
<circle cx="502.00" cy="287.30" r="2.30" fill="#0c6b50"/>
<circle cx="500.00" cy="289.30" r="2.30" fill="#0c6b50"/>
<circle cx="500.00" cy="297.10" r="2.30" fill="#0c6b50"/>
<circle cx="500.00" cy="336.70" r="2.30" fill="#0c6b50"/>
<path d="M500.20 275.70V303.30M497.20 275.70H503.20M497.20 303.30H503.20" stroke="#0c6b50" stroke-width="1.1" fill="none"/>
<path d="M391.6 336.50H512.7" stroke="#1a1a1a" stroke-width="1"/>
<path d="M391.6 258.75V351.5H512.7" stroke="#1a1a1a" stroke-width="1.2" fill="none"/>
<path d="M388.6 261.50H391.6" stroke="#1a1a1a" stroke-width="1"/>
<text x="384.70000000000005" y="264.40" font-size="8.2" text-anchor="end" fill="#2b2b2b" font-weight="normal" textLength="11.76" lengthAdjust="spacingAndGlyphs" stroke="#2b2b2b" stroke-width="0.14">100</text>
<path d="M388.6 276.50H391.6" stroke="#1a1a1a" stroke-width="1"/>
<text x="384.70000000000005" y="279.40" font-size="8.2" text-anchor="end" fill="#2b2b2b" font-weight="normal" textLength="7.84" lengthAdjust="spacingAndGlyphs" stroke="#2b2b2b" stroke-width="0.14">80</text>
<path d="M388.6 291.50H391.6" stroke="#1a1a1a" stroke-width="1"/>
<text x="384.70000000000005" y="294.40" font-size="8.2" text-anchor="end" fill="#2b2b2b" font-weight="normal" textLength="7.84" lengthAdjust="spacingAndGlyphs" stroke="#2b2b2b" stroke-width="0.14">60</text>
<path d="M388.6 306.50H391.6" stroke="#1a1a1a" stroke-width="1"/>
<text x="384.70000000000005" y="309.40" font-size="8.2" text-anchor="end" fill="#2b2b2b" font-weight="normal" textLength="7.84" lengthAdjust="spacingAndGlyphs" stroke="#2b2b2b" stroke-width="0.14">40</text>
<path d="M388.6 321.50H391.6" stroke="#1a1a1a" stroke-width="1"/>
<text x="384.70000000000005" y="324.40" font-size="8.2" text-anchor="end" fill="#2b2b2b" font-weight="normal" textLength="7.84" lengthAdjust="spacingAndGlyphs" stroke="#2b2b2b" stroke-width="0.14">20</text>
<path d="M388.6 336.50H391.6" stroke="#1a1a1a" stroke-width="1"/>
<text x="384.70000000000005" y="339.40" font-size="8.2" text-anchor="end" fill="#2b2b2b" font-weight="normal" textLength="3.92" lengthAdjust="spacingAndGlyphs" stroke="#2b2b2b" stroke-width="0.14">0</text>
<path d="M388.6 351.50H391.6" stroke="#1a1a1a" stroke-width="1"/>
<text x="384.70000000000005" y="354.40" font-size="8.2" text-anchor="end" fill="#2b2b2b" font-weight="normal" textLength="11.96" lengthAdjust="spacingAndGlyphs" stroke="#2b2b2b" stroke-width="0.14">−20</text>
<path d="M404.20 351.5V354.0" stroke="#1a1a1a" stroke-width="1"/>
<path d="M423.30 351.5V354.0" stroke="#1a1a1a" stroke-width="1"/>
<path d="M442.50 351.5V354.0" stroke="#1a1a1a" stroke-width="1"/>
<path d="M461.70 351.5V354.0" stroke="#1a1a1a" stroke-width="1"/>
<path d="M481.00 351.5V354.0" stroke="#1a1a1a" stroke-width="1"/>
<path d="M500.30 351.5V354.0" stroke="#1a1a1a" stroke-width="1"/>
<text transform="translate(406.70 362.80) rotate(-45)" font-size="8.6" text-anchor="end" fill="#2b2b2b" stroke="#2b2b2b" stroke-width="0.18" textLength="14.35" lengthAdjust="spacingAndGlyphs">N=8</text>
<text transform="translate(425.80 362.80) rotate(-45)" font-size="8.6" text-anchor="end" fill="#2b2b2b" stroke="#2b2b2b" stroke-width="0.18" textLength="18.64" lengthAdjust="spacingAndGlyphs">N=14</text>
<text transform="translate(445.00 362.80) rotate(-45)" font-size="8.6" text-anchor="end" fill="#2b2b2b" stroke="#2b2b2b" stroke-width="0.18" textLength="18.64" lengthAdjust="spacingAndGlyphs">N=19</text>
<text transform="translate(464.20 362.80) rotate(-45)" font-size="8.6" text-anchor="end" fill="#2b2b2b" stroke="#2b2b2b" stroke-width="0.18" textLength="18.64" lengthAdjust="spacingAndGlyphs">N=22</text>
<text transform="translate(483.50 362.80) rotate(-45)" font-size="8.6" text-anchor="end" fill="#2b2b2b" stroke="#2b2b2b" stroke-width="0.18" textLength="18.64" lengthAdjust="spacingAndGlyphs">N=19</text>
<text transform="translate(502.80 362.80) rotate(-45)" font-size="8.6" text-anchor="end" fill="#2b2b2b" stroke="#2b2b2b" stroke-width="0.18" textLength="18.64" lengthAdjust="spacingAndGlyphs">N=15</text>
<path d="M405.5 259.5H441.7M405.5 257.0V262.0M441.7 257.0V262.0" stroke="#383838" stroke-width="1.35" fill="none"/>
<polygon points="418.28,253.05 418.83,254.03 419.94,254.26 419.18,255.09 419.30,256.22 418.28,255.75 417.25,256.22 417.37,255.09 416.61,254.26 417.72,254.03" fill="#222"/>
<polygon points="421.83,253.05 422.38,254.03 423.49,254.26 422.73,255.09 422.85,256.22 421.83,255.75 420.80,256.22 420.92,255.09 420.16,254.26 421.27,254.03" fill="#222"/>
<polygon points="425.38,253.05 425.93,254.03 427.04,254.26 426.28,255.09 426.40,256.22 425.38,255.75 424.35,256.22 424.47,255.09 423.71,254.26 424.82,254.03" fill="#222"/>
<polygon points="428.93,253.05 429.48,254.03 430.59,254.26 429.83,255.09 429.95,256.22 428.93,255.75 427.90,256.22 428.02,255.09 427.26,254.26 428.37,254.03" fill="#222"/>
<path d="M426.2 240H441.7M426.2 237.5V242.5M441.7 237.5V242.5" stroke="#383838" stroke-width="1.35" fill="none"/>
<polygon points="428.62,233.55 429.18,234.53 430.29,234.76 429.53,235.59 429.65,236.72 428.62,236.25 427.60,236.72 427.72,235.59 426.96,234.76 428.07,234.53" fill="#222"/>
<polygon points="432.18,233.55 432.73,234.53 433.84,234.76 433.08,235.59 433.20,236.72 432.18,236.25 431.15,236.72 431.27,235.59 430.51,234.76 431.62,234.53" fill="#222"/>
<polygon points="435.72,233.55 436.28,234.53 437.39,234.76 436.63,235.59 436.75,236.72 435.72,236.25 434.70,236.72 434.82,235.59 434.06,234.76 435.17,234.53" fill="#222"/>
<polygon points="439.27,233.55 439.83,234.53 440.94,234.76 440.18,235.59 440.30,236.72 439.27,236.25 438.25,236.72 438.37,235.59 437.61,234.76 438.72,234.53" fill="#222"/>
<path d="M465.5 262.5H480.5M465.5 260.0V265.0M480.5 260.0V265.0" stroke="#383838" stroke-width="1.35" fill="none"/>
<polygon points="467.68,256.05 468.23,257.03 469.34,257.26 468.58,258.09 468.70,259.22 467.68,258.75 466.65,259.22 466.77,258.09 466.01,257.26 467.12,257.03" fill="#222"/>
<polygon points="471.23,256.05 471.78,257.03 472.89,257.26 472.13,258.09 472.25,259.22 471.23,258.75 470.20,259.22 470.32,258.09 469.56,257.26 470.67,257.03" fill="#222"/>
<polygon points="474.77,256.05 475.33,257.03 476.44,257.26 475.68,258.09 475.80,259.22 474.77,258.75 473.75,259.22 473.87,258.09 473.11,257.26 474.22,257.03" fill="#222"/>
<polygon points="478.32,256.05 478.88,257.03 479.99,257.26 479.23,258.09 479.35,259.22 478.32,258.75 477.30,259.22 477.42,258.09 476.66,257.26 477.77,257.03" fill="#222"/>
<text x="66.8" y="14.5" font-size="9.4" text-anchor="start" fill="#111" font-weight="bold" textLength="82.3" lengthAdjust="spacingAndGlyphs" >4 weeks post-BMT</text>
<text x="239.3" y="14.5" font-size="9.4" text-anchor="start" fill="#111" font-weight="bold" textLength="82.3" lengthAdjust="spacingAndGlyphs" >8 weeks post-BMT</text>
<text x="408.6" y="14.5" font-size="9.4" text-anchor="start" fill="#111" font-weight="bold" textLength="87.4" lengthAdjust="spacingAndGlyphs" >12 weeks post-BMT</text>
<text x="6.8" y="14.2" font-size="11.7" text-anchor="start" fill="#000" font-weight="bold" >A</text>
<text x="6.5" y="238.2" font-size="11.8" text-anchor="start" fill="#000" font-weight="bold" >B</text>
<text transform="translate(21.8 120.1) rotate(-90)" font-size="8.6" text-anchor="middle" fill="#2b2b2b" stroke="#2b2b2b" stroke-width="0.15" textLength="95.5" lengthAdjust="spacingAndGlyphs">% Donor chimerism (H2Kd<tspan dy="-2.9" font-size="5.6">+</tspan><tspan dy="2.9">)</tspan></text>
<text transform="translate(13.8 307.8) rotate(-90)" font-size="8.2" text-anchor="middle" fill="#2b2b2b" stroke="#2b2b2b" stroke-width="0.15" textLength="47" lengthAdjust="spacingAndGlyphs">% Donor T cell</text>
<text transform="translate(25.8 305.6) rotate(-90)" font-size="8.2" text-anchor="middle" fill="#2b2b2b" stroke="#2b2b2b" stroke-width="0.15" textLength="66" lengthAdjust="spacingAndGlyphs">chimerism (H2Kd<tspan dy="-2.7" font-size="5.2">+</tspan><tspan dy="2.7">)</tspan></text>
<text transform="translate(186.1 309) rotate(-90)" font-size="8.2" text-anchor="middle" fill="#2b2b2b" stroke="#2b2b2b" stroke-width="0.15" textLength="47" lengthAdjust="spacingAndGlyphs">% Donor B cell</text>
<text transform="translate(198.1 305.3) rotate(-90)" font-size="8.2" text-anchor="middle" fill="#2b2b2b" stroke="#2b2b2b" stroke-width="0.15" textLength="66.3" lengthAdjust="spacingAndGlyphs">chimerism (H2Kd<tspan dy="-2.7" font-size="5.2">+</tspan><tspan dy="2.7">)</tspan></text>
<text transform="translate(357.5 306) rotate(-90)" font-size="8.2" text-anchor="middle" fill="#2b2b2b" stroke="#2b2b2b" stroke-width="0.15" textLength="70" lengthAdjust="spacingAndGlyphs">% Donor myeloid cell</text>
<text transform="translate(369.1 306) rotate(-90)" font-size="8.2" text-anchor="middle" fill="#2b2b2b" stroke="#2b2b2b" stroke-width="0.15" textLength="65.3" lengthAdjust="spacingAndGlyphs">chimerism (H2Kd<tspan dy="-2.7" font-size="5.2">+</tspan><tspan dy="2.7">)</tspan></text>
<circle cx="100.80" cy="205.30" r="2.04" fill="#c8102e"/>
<text x="106.39999999999999" y="207.80" font-size="7.5" text-anchor="start" fill="#262626" font-weight="normal" textLength="93.7" lengthAdjust="spacingAndGlyphs" stroke="#262626" stroke-width="0.1">0× (CD45-ADC+anti-CD40L)</text>
<path d="M100.80 212.66L103.04 214.90L100.80 217.14L98.56 214.90Z" fill="#4f1d73"/>
<text x="106.39999999999999" y="217.40" font-size="7.5" text-anchor="start" fill="#262626" font-weight="normal" textLength="106.7" lengthAdjust="spacingAndGlyphs" stroke="#262626" stroke-width="0.1">150× (Isotype-ADC+anti-CD40L)</text>
<rect x="220.96" y="203.26" width="4.08" height="4.08" fill="#1b5590"/>
<text x="228.6" y="207.80" font-size="7.5" text-anchor="start" fill="#262626" font-weight="normal" textLength="103.5" lengthAdjust="spacingAndGlyphs" stroke="#262626" stroke-width="0.1">50× (Isotype-ADC+anti-CD40L)</text>
<path d="M223.00 217.55L225.52 213.26L220.48 213.26Z" fill="#ff8400"/>
<text x="228.6" y="217.40" font-size="7.5" text-anchor="start" fill="#262626" font-weight="normal" textLength="101.8" lengthAdjust="spacingAndGlyphs" stroke="#262626" stroke-width="0.1">150× (CD45-ADC+anti-CD40L)</text>
<path d="M340.80 202.65L343.32 206.94L338.28 206.94Z" fill="#2db045"/>
<text x="346.40000000000003" y="207.80" font-size="7.5" text-anchor="start" fill="#262626" font-weight="normal" textLength="97.5" lengthAdjust="spacingAndGlyphs" stroke="#262626" stroke-width="0.1">50× (CD45-ADC+anti-CD40L)</text>
<circle cx="340.80" cy="214.90" r="2.35" fill="#0c6b50"/>
<text x="346.40000000000003" y="217.40" font-size="7.5" text-anchor="start" fill="#262626" font-weight="normal" textLength="101.8" lengthAdjust="spacingAndGlyphs" stroke="#262626" stroke-width="0.1">350× (CD45-ADC+anti-CD40L)</text>
<circle cx="100.80" cy="391.70" r="2.04" fill="#c8102e"/>
<text x="106.39999999999999" y="394.20" font-size="7.5" text-anchor="start" fill="#262626" font-weight="normal" textLength="93.7" lengthAdjust="spacingAndGlyphs" stroke="#262626" stroke-width="0.1">0× (CD45-ADC+anti-CD40L)</text>
<path d="M100.80 399.16L103.04 401.40L100.80 403.64L98.56 401.40Z" fill="#4f1d73"/>
<text x="106.39999999999999" y="403.90" font-size="7.5" text-anchor="start" fill="#262626" font-weight="normal" textLength="106.7" lengthAdjust="spacingAndGlyphs" stroke="#262626" stroke-width="0.1">150× (Isotype-ADC+anti-CD40L)</text>
<rect x="220.96" y="389.66" width="4.08" height="4.08" fill="#1b5590"/>
<text x="228.6" y="394.20" font-size="7.5" text-anchor="start" fill="#262626" font-weight="normal" textLength="103.5" lengthAdjust="spacingAndGlyphs" stroke="#262626" stroke-width="0.1">50× (Isotype-ADC+anti-CD40L)</text>
<path d="M223.00 404.05L225.52 399.76L220.48 399.76Z" fill="#ff8400"/>
<text x="228.6" y="403.90" font-size="7.5" text-anchor="start" fill="#262626" font-weight="normal" textLength="101.8" lengthAdjust="spacingAndGlyphs" stroke="#262626" stroke-width="0.1">150× (CD45-ADC+anti-CD40L)</text>
<path d="M340.80 389.05L343.32 393.34L338.28 393.34Z" fill="#2db045"/>
<text x="346.40000000000003" y="394.20" font-size="7.5" text-anchor="start" fill="#262626" font-weight="normal" textLength="97.5" lengthAdjust="spacingAndGlyphs" stroke="#262626" stroke-width="0.1">50× (CD45-ADC+anti-CD40L)</text>
<circle cx="340.80" cy="401.40" r="2.35" fill="#0c6b50"/>
<text x="346.40000000000003" y="403.90" font-size="7.5" text-anchor="start" fill="#262626" font-weight="normal" textLength="101.8" lengthAdjust="spacingAndGlyphs" stroke="#262626" stroke-width="0.1">350× (CD45-ADC+anti-CD40L)</text>
<rect x="0.5" y="0.5" width="519" height="411" fill="none" stroke="#000" stroke-width="1"/>
</svg>
</body></html>
